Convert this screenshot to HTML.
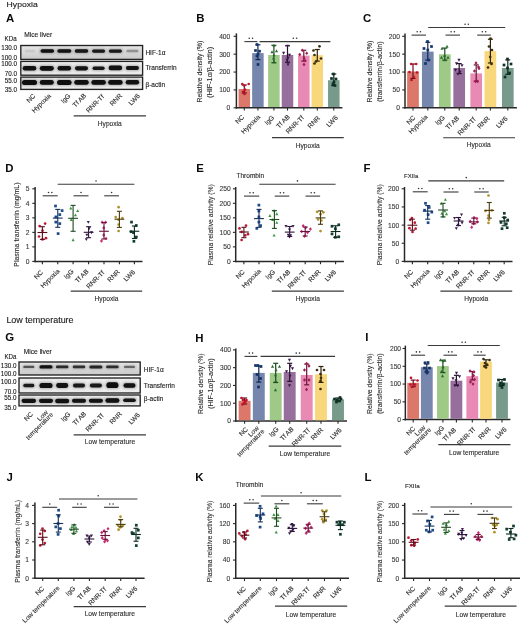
<!DOCTYPE html>
<html><head><meta charset="utf-8"><style>
html,body{margin:0;padding:0;background:#fff;}
svg{display:block;font-family:"Liberation Sans", sans-serif;will-change:transform;}
</style></head><body>
<svg width="520" height="625" viewBox="0 0 520 625">
<defs>
<filter id="bl" x="-50%" y="-100%" width="200%" height="300%"><feGaussianBlur stdDeviation="0.45"/></filter>
<filter id="bl2" x="-50%" y="-100%" width="200%" height="300%"><feGaussianBlur stdDeviation="1.1"/></filter>
<linearGradient id="g1" x1="0" y1="0" x2="0" y2="1"><stop offset="0" stop-color="#e6e6e6"/><stop offset="0.45" stop-color="#dadada"/><stop offset="1" stop-color="#c9c9c9"/></linearGradient>
<linearGradient id="g2" x1="0" y1="0" x2="1" y2="0"><stop offset="0" stop-color="#e8e8e8"/><stop offset="1" stop-color="#eeeeee"/></linearGradient>
</defs>
<rect width="520" height="625" fill="#fff"/>
<text x="6.60" y="7.20" font-size="8.0" text-anchor="start" fill="#1a1a1a" stroke="#1a1a1a" stroke-width="0.12" textLength="31.20" lengthAdjust="spacingAndGlyphs">Hypoxia</text>
<text x="6.40" y="323.00" font-size="9.0" text-anchor="start" fill="#1a1a1a" stroke="#1a1a1a" stroke-width="0.12" textLength="67.20" lengthAdjust="spacingAndGlyphs">Low temperature</text>
<text x="6.00" y="21.90" font-size="11.4" text-anchor="start" fill="#0a0a0a" font-weight="bold">A</text>
<text x="196.20" y="21.85" font-size="11.4" text-anchor="start" fill="#0a0a0a" font-weight="bold">B</text>
<text x="363.00" y="21.85" font-size="11.4" text-anchor="start" fill="#0a0a0a" font-weight="bold">C</text>
<text x="5.20" y="171.75" font-size="11.4" text-anchor="start" fill="#0a0a0a" font-weight="bold">D</text>
<text x="196.20" y="171.80" font-size="11.4" text-anchor="start" fill="#0a0a0a" font-weight="bold">E</text>
<text x="363.40" y="171.60" font-size="11.4" text-anchor="start" fill="#0a0a0a" font-weight="bold">F</text>
<text x="5.20" y="340.90" font-size="11.4" text-anchor="start" fill="#0a0a0a" font-weight="bold">G</text>
<text x="195.30" y="342.30" font-size="11.4" text-anchor="start" fill="#0a0a0a" font-weight="bold">H</text>
<text x="365.30" y="341.20" font-size="11.4" text-anchor="start" fill="#0a0a0a" font-weight="bold">I</text>
<text x="6.60" y="480.50" font-size="11.4" text-anchor="start" fill="#0a0a0a" font-weight="bold">J</text>
<text x="195.30" y="480.70" font-size="11.4" text-anchor="start" fill="#0a0a0a" font-weight="bold">K</text>
<text x="364.60" y="480.70" font-size="11.4" text-anchor="start" fill="#0a0a0a" font-weight="bold">L</text>
<rect x="20.80" y="45.50" width="121.80" height="13.90" fill="url(#g1)" stroke="#222" stroke-width="1.35"/>
<rect x="23.80" y="48.95" width="12.40" height="4.20" rx="2.10" fill="#202020" opacity="0.021" filter="url(#bl2)"/>
<rect x="25.00" y="49.85" width="10.00" height="2.40" rx="1.20" fill="#080808" opacity="0.07" filter="url(#bl)"/>
<rect x="39.35" y="48.45" width="15.90" height="5.20" rx="2.60" fill="#202020" opacity="0.291" filter="url(#bl2)"/>
<rect x="40.55" y="49.35" width="13.50" height="3.40" rx="1.70" fill="#080808" opacity="0.97" filter="url(#bl)"/>
<rect x="56.10" y="48.40" width="16.40" height="5.30" rx="2.65" fill="#202020" opacity="0.285" filter="url(#bl2)"/>
<rect x="57.30" y="49.30" width="14.00" height="3.50" rx="1.75" fill="#080808" opacity="0.95" filter="url(#bl)"/>
<rect x="73.55" y="48.45" width="15.90" height="5.20" rx="2.60" fill="#202020" opacity="0.279" filter="url(#bl2)"/>
<rect x="74.75" y="49.35" width="13.50" height="3.40" rx="1.70" fill="#080808" opacity="0.93" filter="url(#bl)"/>
<rect x="90.90" y="48.55" width="15.40" height="5.00" rx="2.50" fill="#202020" opacity="0.276" filter="url(#bl2)"/>
<rect x="92.10" y="49.45" width="13.00" height="3.20" rx="1.60" fill="#080808" opacity="0.92" filter="url(#bl)"/>
<rect x="107.70" y="48.55" width="15.40" height="5.00" rx="2.50" fill="#202020" opacity="0.276" filter="url(#bl2)"/>
<rect x="108.90" y="49.45" width="13.00" height="3.20" rx="1.60" fill="#080808" opacity="0.92" filter="url(#bl)"/>
<rect x="125.20" y="48.95" width="14.40" height="4.20" rx="2.10" fill="#202020" opacity="0.090" filter="url(#bl2)"/>
<rect x="126.40" y="49.85" width="12.00" height="2.40" rx="1.20" fill="#080808" opacity="0.3" filter="url(#bl)"/>
<rect x="20.80" y="61.40" width="121.80" height="13.80" fill="url(#g2)" stroke="#222" stroke-width="1.35"/>
<rect x="21.55" y="65.20" width="15.90" height="6.20" rx="3.10" fill="#202020" opacity="0.291" filter="url(#bl2)"/>
<rect x="22.75" y="66.10" width="13.50" height="4.40" rx="2.20" fill="#080808" opacity="0.97" filter="url(#bl)"/>
<rect x="38.60" y="65.00" width="16.40" height="6.60" rx="3.30" fill="#202020" opacity="0.294" filter="url(#bl2)"/>
<rect x="39.80" y="65.90" width="14.00" height="4.80" rx="2.40" fill="#080808" opacity="0.98" filter="url(#bl)"/>
<rect x="56.35" y="65.10" width="15.90" height="6.40" rx="3.20" fill="#202020" opacity="0.291" filter="url(#bl2)"/>
<rect x="57.55" y="66.00" width="13.50" height="4.60" rx="2.30" fill="#080808" opacity="0.97" filter="url(#bl)"/>
<rect x="73.80" y="65.30" width="15.40" height="6.00" rx="3.00" fill="#202020" opacity="0.285" filter="url(#bl2)"/>
<rect x="75.00" y="66.20" width="13.00" height="4.20" rx="2.10" fill="#080808" opacity="0.95" filter="url(#bl)"/>
<rect x="91.40" y="65.70" width="14.40" height="5.20" rx="2.60" fill="#202020" opacity="0.279" filter="url(#bl2)"/>
<rect x="92.60" y="66.60" width="12.00" height="3.40" rx="1.70" fill="#080808" opacity="0.93" filter="url(#bl)"/>
<rect x="107.45" y="64.70" width="15.90" height="6.40" rx="3.20" fill="#202020" opacity="0.291" filter="url(#bl2)"/>
<rect x="108.65" y="65.60" width="13.50" height="4.60" rx="2.30" fill="#080808" opacity="0.97" filter="url(#bl)"/>
<rect x="124.70" y="65.10" width="15.40" height="5.80" rx="2.90" fill="#202020" opacity="0.285" filter="url(#bl2)"/>
<rect x="125.90" y="66.00" width="13.00" height="4.00" rx="2.00" fill="#080808" opacity="0.95" filter="url(#bl)"/>
<rect x="20.80" y="77.10" width="121.80" height="12.30" fill="url(#g2)" stroke="#222" stroke-width="1.35"/>
<rect x="20.80" y="79.05" width="17.40" height="6.80" rx="3.40" fill="#202020" opacity="0.297" filter="url(#bl2)"/>
<rect x="22.00" y="79.95" width="15.00" height="5.00" rx="2.50" fill="#080808" opacity="0.99" filter="url(#bl)"/>
<rect x="38.60" y="79.15" width="16.40" height="6.60" rx="3.30" fill="#202020" opacity="0.294" filter="url(#bl2)"/>
<rect x="39.80" y="80.05" width="14.00" height="4.80" rx="2.40" fill="#080808" opacity="0.98" filter="url(#bl)"/>
<rect x="55.85" y="79.05" width="16.90" height="6.80" rx="3.40" fill="#202020" opacity="0.297" filter="url(#bl2)"/>
<rect x="57.05" y="79.95" width="14.50" height="5.00" rx="2.50" fill="#080808" opacity="0.99" filter="url(#bl)"/>
<rect x="73.05" y="79.15" width="16.90" height="6.60" rx="3.30" fill="#202020" opacity="0.294" filter="url(#bl2)"/>
<rect x="74.25" y="80.05" width="14.50" height="4.80" rx="2.40" fill="#080808" opacity="0.98" filter="url(#bl)"/>
<rect x="90.15" y="79.15" width="16.90" height="6.60" rx="3.30" fill="#202020" opacity="0.294" filter="url(#bl2)"/>
<rect x="91.35" y="80.05" width="14.50" height="4.80" rx="2.40" fill="#080808" opacity="0.98" filter="url(#bl)"/>
<rect x="106.95" y="79.15" width="16.90" height="6.60" rx="3.30" fill="#202020" opacity="0.294" filter="url(#bl2)"/>
<rect x="108.15" y="80.05" width="14.50" height="4.80" rx="2.40" fill="#080808" opacity="0.98" filter="url(#bl)"/>
<rect x="124.45" y="79.05" width="15.90" height="6.40" rx="3.20" fill="#202020" opacity="0.291" filter="url(#bl2)"/>
<rect x="125.65" y="79.95" width="13.50" height="4.60" rx="2.30" fill="#080808" opacity="0.97" filter="url(#bl)"/>
<text x="17.00" y="50.40" font-size="6.3" text-anchor="end" fill="#1a1a1a" stroke="#1a1a1a" stroke-width="0.12">130.0</text>
<text x="17.00" y="59.70" font-size="6.3" text-anchor="end" fill="#1a1a1a" stroke="#1a1a1a" stroke-width="0.12">100.0</text>
<text x="17.00" y="65.90" font-size="6.3" text-anchor="end" fill="#1a1a1a" stroke="#1a1a1a" stroke-width="0.12">100.0</text>
<text x="17.00" y="75.90" font-size="6.3" text-anchor="end" fill="#1a1a1a" stroke="#1a1a1a" stroke-width="0.12">70.0</text>
<text x="17.00" y="82.70" font-size="6.3" text-anchor="end" fill="#1a1a1a" stroke="#1a1a1a" stroke-width="0.12">55.0</text>
<text x="17.00" y="91.50" font-size="6.3" text-anchor="end" fill="#1a1a1a" stroke="#1a1a1a" stroke-width="0.12">35.0</text>
<text x="145.40" y="54.50" font-size="6.5" text-anchor="start" fill="#1a1a1a" stroke="#1a1a1a" stroke-width="0.12">HIF-1α</text>
<text x="145.40" y="70.30" font-size="6.5" text-anchor="start" fill="#1a1a1a" stroke="#1a1a1a" stroke-width="0.12">Transferrin</text>
<text x="145.40" y="86.70" font-size="6.5" text-anchor="start" fill="#1a1a1a" stroke="#1a1a1a" stroke-width="0.12">β-actin</text>
<text x="4.60" y="40.60" font-size="6.5" text-anchor="start" fill="#1a1a1a" stroke="#1a1a1a" stroke-width="0.12" textLength="12.00" lengthAdjust="spacingAndGlyphs">KDa</text>
<text x="24.20" y="37.40" font-size="6.8" text-anchor="start" fill="#1a1a1a" stroke="#1a1a1a" stroke-width="0.12" textLength="28.00" lengthAdjust="spacingAndGlyphs">Mice liver</text>
<text x="35.94" y="96.41" font-size="6.6" text-anchor="end" fill="#2e2e2e" stroke="#2e2e2e" stroke-width="0.12" transform="rotate(-45 35.94 96.41)">NC</text>
<text x="51.36" y="96.31" font-size="6.6" text-anchor="end" fill="#2e2e2e" stroke="#2e2e2e" stroke-width="0.12" transform="rotate(-45 51.36 96.31)">Hypoxia</text>
<text x="70.94" y="96.29" font-size="6.6" text-anchor="end" fill="#2e2e2e" stroke="#2e2e2e" stroke-width="0.12" transform="rotate(-45 70.94 96.29)">IgG</text>
<text x="86.74" y="96.24" font-size="6.6" text-anchor="end" fill="#2e2e2e" stroke="#2e2e2e" stroke-width="0.12" transform="rotate(-45 86.74 96.24)">Tf AB</text>
<text x="104.46" y="97.24" font-size="6.6" text-anchor="end" fill="#2e2e2e" stroke="#2e2e2e" stroke-width="0.12" transform="rotate(-45 104.46 97.24)">RNR-Tf</text>
<text x="122.54" y="96.24" font-size="6.6" text-anchor="end" fill="#2e2e2e" stroke="#2e2e2e" stroke-width="0.12" transform="rotate(-45 122.54 96.24)">RNR</text>
<text x="140.41" y="96.49" font-size="6.6" text-anchor="end" fill="#2e2e2e" stroke="#2e2e2e" stroke-width="0.12" transform="rotate(-45 140.41 96.49)">LW6</text>
<line x1="73.65" y1="115.90" x2="146.00" y2="115.90" stroke="#3a3a3a" stroke-width="1.1"/>
<text x="109.80" y="126.20" font-size="6.7" text-anchor="middle" fill="#2e2e2e" stroke="#2e2e2e" stroke-width="0.12" textLength="24.00" lengthAdjust="spacingAndGlyphs">Hypoxia</text>
<line x1="236.40" y1="33.40" x2="236.40" y2="108.55" stroke="#282828" stroke-width="1.5"/>
<line x1="235.65" y1="107.80" x2="342.40" y2="107.80" stroke="#282828" stroke-width="1.5"/>
<line x1="233.60" y1="107.80" x2="236.40" y2="107.80" stroke="#282828" stroke-width="1.1"/>
<text x="230.30" y="110.20" font-size="6.7" text-anchor="end" fill="#3a3a3a" stroke="#3a3a3a" stroke-width="0.12">0</text>
<line x1="233.60" y1="89.92" x2="236.40" y2="89.92" stroke="#282828" stroke-width="1.1"/>
<text x="230.30" y="92.33" font-size="6.7" text-anchor="end" fill="#3a3a3a" stroke="#3a3a3a" stroke-width="0.12">100</text>
<line x1="233.60" y1="72.05" x2="236.40" y2="72.05" stroke="#282828" stroke-width="1.1"/>
<text x="230.30" y="74.45" font-size="6.7" text-anchor="end" fill="#3a3a3a" stroke="#3a3a3a" stroke-width="0.12">200</text>
<line x1="233.60" y1="54.17" x2="236.40" y2="54.17" stroke="#282828" stroke-width="1.1"/>
<text x="230.30" y="56.57" font-size="6.7" text-anchor="end" fill="#3a3a3a" stroke="#3a3a3a" stroke-width="0.12">300</text>
<line x1="233.60" y1="36.30" x2="236.40" y2="36.30" stroke="#282828" stroke-width="1.1"/>
<text x="230.30" y="38.70" font-size="6.7" text-anchor="end" fill="#3a3a3a" stroke="#3a3a3a" stroke-width="0.12">400</text>
<line x1="244.30" y1="107.80" x2="244.30" y2="110.60" stroke="#282828" stroke-width="1.1"/>
<line x1="257.90" y1="107.80" x2="257.90" y2="110.60" stroke="#282828" stroke-width="1.1"/>
<line x1="273.90" y1="107.80" x2="273.90" y2="110.60" stroke="#282828" stroke-width="1.1"/>
<line x1="287.50" y1="107.80" x2="287.50" y2="110.60" stroke="#282828" stroke-width="1.1"/>
<line x1="303.80" y1="107.80" x2="303.80" y2="110.60" stroke="#282828" stroke-width="1.1"/>
<line x1="317.30" y1="107.80" x2="317.30" y2="110.60" stroke="#282828" stroke-width="1.1"/>
<line x1="333.80" y1="107.80" x2="333.80" y2="110.60" stroke="#282828" stroke-width="1.1"/>
<rect x="238.55" y="89.00" width="11.50" height="18.05" fill="#db786a"/>
<rect x="252.15" y="53.10" width="11.50" height="53.95" fill="#7686ad"/>
<rect x="268.15" y="55.00" width="11.50" height="52.05" fill="#9ec986"/>
<rect x="281.75" y="55.00" width="11.50" height="52.05" fill="#976f9d"/>
<rect x="298.05" y="55.60" width="11.50" height="51.45" fill="#e98ab4"/>
<rect x="311.55" y="55.20" width="11.50" height="51.85" fill="#f9d77c"/>
<rect x="328.05" y="80.20" width="11.50" height="26.85" fill="#789a8a"/>
<line x1="244.30" y1="85.00" x2="244.30" y2="93.00" stroke="#6a0e1c" stroke-width="1.2"/>
<line x1="241.80" y1="85.00" x2="246.80" y2="85.00" stroke="#6a0e1c" stroke-width="1.2"/>
<line x1="241.80" y1="93.00" x2="246.80" y2="93.00" stroke="#6a0e1c" stroke-width="1.2"/>
<circle cx="242.30" cy="84.00" r="1.35" fill="#c0142e"/>
<circle cx="248.70" cy="84.00" r="1.35" fill="#c0142e"/>
<circle cx="244.30" cy="85.50" r="1.35" fill="#c0142e"/>
<circle cx="245.00" cy="89.70" r="1.35" fill="#c0142e"/>
<circle cx="243.00" cy="91.90" r="1.35" fill="#c0142e"/>
<circle cx="244.50" cy="94.00" r="1.35" fill="#c0142e"/>
<line x1="257.90" y1="44.80" x2="257.90" y2="59.60" stroke="#102850" stroke-width="1.2"/>
<line x1="255.40" y1="44.80" x2="260.40" y2="44.80" stroke="#102850" stroke-width="1.2"/>
<line x1="255.40" y1="59.60" x2="260.40" y2="59.60" stroke="#102850" stroke-width="1.2"/>
<rect x="255.65" y="43.15" width="2.70" height="2.70" fill="#15346a"/>
<rect x="254.15" y="49.15" width="2.70" height="2.70" fill="#15346a"/>
<rect x="258.15" y="49.85" width="2.70" height="2.70" fill="#15346a"/>
<rect x="256.65" y="52.65" width="2.70" height="2.70" fill="#15346a"/>
<rect x="255.65" y="54.65" width="2.70" height="2.70" fill="#15346a"/>
<rect x="256.65" y="63.15" width="2.70" height="2.70" fill="#15346a"/>
<line x1="273.90" y1="45.30" x2="273.90" y2="62.75" stroke="#184a1e" stroke-width="1.2"/>
<line x1="271.40" y1="45.30" x2="276.40" y2="45.30" stroke="#184a1e" stroke-width="1.2"/>
<line x1="271.40" y1="62.75" x2="276.40" y2="62.75" stroke="#184a1e" stroke-width="1.2"/>
<path d="M274.00,43.81 L275.55,46.65 L272.45,46.65Z" fill="#2a6a30"/>
<path d="M272.00,50.31 L273.55,53.15 L270.45,53.15Z" fill="#2a6a30"/>
<path d="M276.50,49.31 L278.05,52.15 L274.95,52.15Z" fill="#2a6a30"/>
<path d="M274.00,53.31 L275.55,56.15 L272.45,56.15Z" fill="#2a6a30"/>
<path d="M273.50,56.61 L275.05,59.45 L271.95,59.45Z" fill="#2a6a30"/>
<path d="M274.30,60.31 L275.85,63.15 L272.75,63.15Z" fill="#2a6a30"/>
<line x1="287.50" y1="45.80" x2="287.50" y2="62.20" stroke="#24102e" stroke-width="1.2"/>
<line x1="285.00" y1="45.80" x2="290.00" y2="45.80" stroke="#24102e" stroke-width="1.2"/>
<line x1="285.00" y1="62.20" x2="290.00" y2="62.20" stroke="#24102e" stroke-width="1.2"/>
<path d="M287.60,47.49 L289.15,44.65 L286.05,44.65Z" fill="#3a1848"/>
<path d="M283.60,54.69 L285.15,51.85 L282.05,51.85Z" fill="#3a1848"/>
<path d="M289.50,56.69 L291.05,53.85 L287.95,53.85Z" fill="#3a1848"/>
<path d="M288.00,59.69 L289.55,56.85 L286.45,56.85Z" fill="#3a1848"/>
<path d="M287.00,61.69 L288.55,58.85 L285.45,58.85Z" fill="#3a1848"/>
<path d="M288.00,66.19 L289.55,63.35 L286.45,63.35Z" fill="#3a1848"/>
<line x1="303.80" y1="50.30" x2="303.80" y2="61.10" stroke="#6a1436" stroke-width="1.2"/>
<line x1="301.30" y1="50.30" x2="306.30" y2="50.30" stroke="#6a1436" stroke-width="1.2"/>
<line x1="301.30" y1="61.10" x2="306.30" y2="61.10" stroke="#6a1436" stroke-width="1.2"/>
<path d="M299.70,52.78 L301.25,54.60 L299.70,56.42 L298.15,54.60Z" fill="#a01e52"/>
<path d="M302.30,48.48 L303.85,50.30 L302.30,52.12 L300.75,50.30Z" fill="#a01e52"/>
<path d="M306.70,51.48 L308.25,53.30 L306.70,55.12 L305.15,53.30Z" fill="#a01e52"/>
<path d="M304.00,56.18 L305.55,58.00 L304.00,59.82 L302.45,58.00Z" fill="#a01e52"/>
<path d="M305.00,58.78 L306.55,60.60 L305.00,62.42 L303.45,60.60Z" fill="#a01e52"/>
<path d="M304.00,62.68 L305.55,64.50 L304.00,66.32 L302.45,64.50Z" fill="#a01e52"/>
<line x1="317.30" y1="49.50" x2="317.30" y2="61.10" stroke="#2e2408" stroke-width="1.2"/>
<line x1="314.80" y1="49.50" x2="319.80" y2="49.50" stroke="#2e2408" stroke-width="1.2"/>
<line x1="314.80" y1="61.10" x2="319.80" y2="61.10" stroke="#2e2408" stroke-width="1.2"/>
<circle cx="319.50" cy="46.30" r="1.35" fill="#3a2e10"/>
<circle cx="313.50" cy="50.50" r="1.35" fill="#3a2e10"/>
<circle cx="314.50" cy="55.00" r="1.35" fill="#3a2e10"/>
<circle cx="321.00" cy="58.50" r="1.35" fill="#3a2e10"/>
<circle cx="316.00" cy="61.50" r="1.35" fill="#3a2e10"/>
<circle cx="314.50" cy="63.50" r="1.35" fill="#3a2e10"/>
<line x1="333.80" y1="74.00" x2="333.80" y2="85.60" stroke="#0a241a" stroke-width="1.2"/>
<line x1="331.30" y1="74.00" x2="336.30" y2="74.00" stroke="#0a241a" stroke-width="1.2"/>
<line x1="331.30" y1="85.60" x2="336.30" y2="85.60" stroke="#0a241a" stroke-width="1.2"/>
<rect x="332.15" y="72.65" width="2.70" height="2.70" fill="#0e3026"/>
<rect x="330.15" y="77.15" width="2.70" height="2.70" fill="#0e3026"/>
<rect x="334.65" y="77.65" width="2.70" height="2.70" fill="#0e3026"/>
<rect x="332.65" y="80.65" width="2.70" height="2.70" fill="#0e3026"/>
<rect x="331.65" y="82.65" width="2.70" height="2.70" fill="#0e3026"/>
<rect x="333.45" y="84.15" width="2.70" height="2.70" fill="#0e3026"/>
<text x="201.90" y="71.70" font-size="7.3" text-anchor="middle" fill="#2e2e2e" stroke="#2e2e2e" stroke-width="0.12" textLength="61.80" lengthAdjust="spacingAndGlyphs" transform="rotate(-90 201.90 71.70)">Relative density (%)</text>
<text x="212.50" y="72.35" font-size="7.3" text-anchor="middle" fill="#2e2e2e" stroke="#2e2e2e" stroke-width="0.12" textLength="51.10" lengthAdjust="spacingAndGlyphs" transform="rotate(-90 212.50 72.35)">(HIF-1α/β-actin)</text>
<text x="244.69" y="117.56" font-size="6.6" text-anchor="end" fill="#2e2e2e" stroke="#2e2e2e" stroke-width="0.12" transform="rotate(-45 244.69 117.56)">NC</text>
<text x="260.66" y="117.46" font-size="6.6" text-anchor="end" fill="#2e2e2e" stroke="#2e2e2e" stroke-width="0.12" transform="rotate(-45 260.66 117.46)">Hypoxia</text>
<text x="274.69" y="118.09" font-size="6.6" text-anchor="end" fill="#2e2e2e" stroke="#2e2e2e" stroke-width="0.12" transform="rotate(-45 274.69 118.09)">IgG</text>
<text x="290.34" y="117.29" font-size="6.6" text-anchor="end" fill="#2e2e2e" stroke="#2e2e2e" stroke-width="0.12" transform="rotate(-45 290.34 117.29)">Tf AB</text>
<text x="304.31" y="118.29" font-size="6.6" text-anchor="end" fill="#2e2e2e" stroke="#2e2e2e" stroke-width="0.12" transform="rotate(-45 304.31 118.29)">RNR-Tf</text>
<text x="320.44" y="118.59" font-size="6.6" text-anchor="end" fill="#2e2e2e" stroke="#2e2e2e" stroke-width="0.12" transform="rotate(-45 320.44 118.59)">RNR</text>
<text x="338.31" y="118.19" font-size="6.6" text-anchor="end" fill="#2e2e2e" stroke="#2e2e2e" stroke-width="0.12" transform="rotate(-45 338.31 118.19)">LW6</text>
<line x1="272.00" y1="137.60" x2="343.75" y2="137.60" stroke="#3a3a3a" stroke-width="1.1"/>
<text x="307.70" y="147.90" font-size="6.7" text-anchor="middle" fill="#2e2e2e" stroke="#2e2e2e" stroke-width="0.12" textLength="24.00" lengthAdjust="spacingAndGlyphs">Hypoxia</text>
<line x1="244.40" y1="41.60" x2="257.40" y2="41.60" stroke="#3a3a3a" stroke-width="1.1"/>
<circle cx="249.25" cy="38.30" r="0.8" fill="#333"/>
<circle cx="252.55" cy="38.30" r="0.8" fill="#333"/>
<line x1="259.50" y1="41.60" x2="330.40" y2="41.60" stroke="#3a3a3a" stroke-width="1.1"/>
<circle cx="293.30" cy="38.30" r="0.8" fill="#333"/>
<circle cx="296.60" cy="38.30" r="0.8" fill="#333"/>
<line x1="405.00" y1="33.60" x2="405.00" y2="108.55" stroke="#282828" stroke-width="1.5"/>
<line x1="404.25" y1="107.80" x2="516.90" y2="107.80" stroke="#282828" stroke-width="1.5"/>
<line x1="402.20" y1="107.80" x2="405.00" y2="107.80" stroke="#282828" stroke-width="1.1"/>
<text x="399.90" y="110.20" font-size="6.7" text-anchor="end" fill="#3a3a3a" stroke="#3a3a3a" stroke-width="0.12">0</text>
<line x1="402.20" y1="89.92" x2="405.00" y2="89.92" stroke="#282828" stroke-width="1.1"/>
<text x="399.90" y="92.33" font-size="6.7" text-anchor="end" fill="#3a3a3a" stroke="#3a3a3a" stroke-width="0.12">50</text>
<line x1="402.20" y1="72.05" x2="405.00" y2="72.05" stroke="#282828" stroke-width="1.1"/>
<text x="399.90" y="74.45" font-size="6.7" text-anchor="end" fill="#3a3a3a" stroke="#3a3a3a" stroke-width="0.12">100</text>
<line x1="402.20" y1="54.17" x2="405.00" y2="54.17" stroke="#282828" stroke-width="1.1"/>
<text x="399.90" y="56.57" font-size="6.7" text-anchor="end" fill="#3a3a3a" stroke="#3a3a3a" stroke-width="0.12">150</text>
<line x1="402.20" y1="36.30" x2="405.00" y2="36.30" stroke="#282828" stroke-width="1.1"/>
<text x="399.90" y="38.70" font-size="6.7" text-anchor="end" fill="#3a3a3a" stroke="#3a3a3a" stroke-width="0.12">200</text>
<line x1="413.00" y1="107.80" x2="413.00" y2="110.60" stroke="#282828" stroke-width="1.1"/>
<line x1="427.80" y1="107.80" x2="427.80" y2="110.60" stroke="#282828" stroke-width="1.1"/>
<line x1="444.80" y1="107.80" x2="444.80" y2="110.60" stroke="#282828" stroke-width="1.1"/>
<line x1="459.20" y1="107.80" x2="459.20" y2="110.60" stroke="#282828" stroke-width="1.1"/>
<line x1="476.20" y1="107.80" x2="476.20" y2="110.60" stroke="#282828" stroke-width="1.1"/>
<line x1="490.40" y1="107.80" x2="490.40" y2="110.60" stroke="#282828" stroke-width="1.1"/>
<line x1="507.80" y1="107.80" x2="507.80" y2="110.60" stroke="#282828" stroke-width="1.1"/>
<rect x="407.15" y="71.50" width="11.70" height="35.55" fill="#db786a"/>
<rect x="421.95" y="51.60" width="11.70" height="55.45" fill="#7686ad"/>
<rect x="438.95" y="54.30" width="11.70" height="52.75" fill="#9ec986"/>
<rect x="453.35" y="68.00" width="11.70" height="39.05" fill="#976f9d"/>
<rect x="470.35" y="73.40" width="11.70" height="33.65" fill="#e98ab4"/>
<rect x="484.55" y="51.10" width="11.70" height="55.95" fill="#f9d77c"/>
<rect x="501.95" y="68.00" width="11.70" height="39.05" fill="#789a8a"/>
<line x1="413.00" y1="64.00" x2="413.00" y2="78.40" stroke="#6a0e1c" stroke-width="1.2"/>
<line x1="410.50" y1="64.00" x2="415.50" y2="64.00" stroke="#6a0e1c" stroke-width="1.2"/>
<line x1="410.50" y1="78.40" x2="415.50" y2="78.40" stroke="#6a0e1c" stroke-width="1.2"/>
<circle cx="411.20" cy="64.00" r="1.35" fill="#c0142e"/>
<circle cx="416.20" cy="64.00" r="1.35" fill="#c0142e"/>
<circle cx="409.50" cy="72.00" r="1.35" fill="#c0142e"/>
<circle cx="417.00" cy="72.50" r="1.35" fill="#c0142e"/>
<circle cx="413.80" cy="77.00" r="1.35" fill="#c0142e"/>
<circle cx="411.50" cy="80.00" r="1.35" fill="#c0142e"/>
<line x1="427.80" y1="42.30" x2="427.80" y2="60.10" stroke="#102850" stroke-width="1.2"/>
<line x1="425.30" y1="42.30" x2="430.30" y2="42.30" stroke="#102850" stroke-width="1.2"/>
<line x1="425.30" y1="60.10" x2="430.30" y2="60.10" stroke="#102850" stroke-width="1.2"/>
<rect x="426.15" y="40.15" width="2.70" height="2.70" fill="#15346a"/>
<rect x="422.65" y="47.15" width="2.70" height="2.70" fill="#15346a"/>
<rect x="430.15" y="45.15" width="2.70" height="2.70" fill="#15346a"/>
<rect x="426.45" y="48.65" width="2.70" height="2.70" fill="#15346a"/>
<rect x="424.15" y="62.15" width="2.70" height="2.70" fill="#15346a"/>
<rect x="427.15" y="58.65" width="2.70" height="2.70" fill="#15346a"/>
<line x1="444.80" y1="48.10" x2="444.80" y2="60.10" stroke="#184a1e" stroke-width="1.2"/>
<line x1="442.30" y1="48.10" x2="447.30" y2="48.10" stroke="#184a1e" stroke-width="1.2"/>
<line x1="442.30" y1="60.10" x2="447.30" y2="60.10" stroke="#184a1e" stroke-width="1.2"/>
<path d="M447.00,44.81 L448.55,47.65 L445.45,47.65Z" fill="#2a6a30"/>
<path d="M442.00,46.81 L443.55,49.65 L440.45,49.65Z" fill="#2a6a30"/>
<path d="M444.50,53.81 L446.05,56.65 L442.95,56.65Z" fill="#2a6a30"/>
<path d="M441.50,55.81 L443.05,58.65 L439.95,58.65Z" fill="#2a6a30"/>
<path d="M448.00,55.81 L449.55,58.65 L446.45,58.65Z" fill="#2a6a30"/>
<path d="M444.80,58.31 L446.35,61.15 L443.25,61.15Z" fill="#2a6a30"/>
<line x1="459.20" y1="63.60" x2="459.20" y2="73.60" stroke="#24102e" stroke-width="1.2"/>
<line x1="456.70" y1="63.60" x2="461.70" y2="63.60" stroke="#24102e" stroke-width="1.2"/>
<line x1="456.70" y1="73.60" x2="461.70" y2="73.60" stroke="#24102e" stroke-width="1.2"/>
<path d="M459.00,61.69 L460.55,58.85 L457.45,58.85Z" fill="#3a1848"/>
<path d="M456.50,65.19 L458.05,62.35 L454.95,62.35Z" fill="#3a1848"/>
<path d="M462.00,67.19 L463.55,64.35 L460.45,64.35Z" fill="#3a1848"/>
<path d="M455.50,71.69 L457.05,68.85 L453.95,68.85Z" fill="#3a1848"/>
<path d="M460.00,73.69 L461.55,70.85 L458.45,70.85Z" fill="#3a1848"/>
<path d="M458.00,75.69 L459.55,72.85 L456.45,72.85Z" fill="#3a1848"/>
<line x1="476.20" y1="64.90" x2="476.20" y2="81.10" stroke="#6a1436" stroke-width="1.2"/>
<line x1="473.70" y1="64.90" x2="478.70" y2="64.90" stroke="#6a1436" stroke-width="1.2"/>
<line x1="473.70" y1="81.10" x2="478.70" y2="81.10" stroke="#6a1436" stroke-width="1.2"/>
<path d="M476.00,61.18 L477.55,63.00 L476.00,64.82 L474.45,63.00Z" fill="#a01e52"/>
<path d="M478.50,65.18 L480.05,67.00 L478.50,68.82 L476.95,67.00Z" fill="#a01e52"/>
<path d="M474.50,69.18 L476.05,71.00 L474.50,72.82 L472.95,71.00Z" fill="#a01e52"/>
<path d="M479.00,66.68 L480.55,68.50 L479.00,70.32 L477.45,68.50Z" fill="#a01e52"/>
<path d="M475.50,79.68 L477.05,81.50 L475.50,83.32 L473.95,81.50Z" fill="#a01e52"/>
<path d="M477.50,79.68 L479.05,81.50 L477.50,83.32 L475.95,81.50Z" fill="#a01e52"/>
<line x1="490.40" y1="39.25" x2="490.40" y2="63.00" stroke="#2e2408" stroke-width="1.2"/>
<line x1="487.90" y1="39.25" x2="492.90" y2="39.25" stroke="#2e2408" stroke-width="1.2"/>
<line x1="487.90" y1="63.00" x2="492.90" y2="63.00" stroke="#2e2408" stroke-width="1.2"/>
<circle cx="490.50" cy="38.50" r="1.35" fill="#3a2e10"/>
<circle cx="489.00" cy="46.50" r="1.35" fill="#3a2e10"/>
<circle cx="492.00" cy="50.00" r="1.35" fill="#3a2e10"/>
<circle cx="491.50" cy="64.00" r="1.35" fill="#3a2e10"/>
<circle cx="488.00" cy="67.50" r="1.35" fill="#3a2e10"/>
<circle cx="490.20" cy="57.00" r="1.35" fill="#3a2e10"/>
<line x1="507.80" y1="59.90" x2="507.80" y2="74.30" stroke="#0a241a" stroke-width="1.2"/>
<line x1="505.30" y1="59.90" x2="510.30" y2="59.90" stroke="#0a241a" stroke-width="1.2"/>
<line x1="505.30" y1="74.30" x2="510.30" y2="74.30" stroke="#0a241a" stroke-width="1.2"/>
<rect x="506.15" y="57.65" width="2.70" height="2.70" fill="#0e3026"/>
<rect x="502.65" y="63.65" width="2.70" height="2.70" fill="#0e3026"/>
<rect x="509.65" y="62.65" width="2.70" height="2.70" fill="#0e3026"/>
<rect x="506.15" y="66.65" width="2.70" height="2.70" fill="#0e3026"/>
<rect x="508.15" y="71.65" width="2.70" height="2.70" fill="#0e3026"/>
<rect x="503.65" y="75.65" width="2.70" height="2.70" fill="#0e3026"/>
<text x="371.70" y="71.70" font-size="7.3" text-anchor="middle" fill="#2e2e2e" stroke="#2e2e2e" stroke-width="0.12" textLength="61.80" lengthAdjust="spacingAndGlyphs" transform="rotate(-90 371.70 71.70)">Relative density (%)</text>
<text x="382.00" y="71.65" font-size="7.3" text-anchor="middle" fill="#2e2e2e" stroke="#2e2e2e" stroke-width="0.12" textLength="60.50" lengthAdjust="spacingAndGlyphs" transform="rotate(-90 382.00 71.65)">(transferrin/β-actin)</text>
<text x="415.94" y="118.21" font-size="6.6" text-anchor="end" fill="#2e2e2e" stroke="#2e2e2e" stroke-width="0.12" transform="rotate(-45 415.94 118.21)">NC</text>
<text x="428.16" y="117.46" font-size="6.6" text-anchor="end" fill="#2e2e2e" stroke="#2e2e2e" stroke-width="0.12" transform="rotate(-45 428.16 117.46)">Hypoxia</text>
<text x="445.34" y="118.09" font-size="6.6" text-anchor="end" fill="#2e2e2e" stroke="#2e2e2e" stroke-width="0.12" transform="rotate(-45 445.34 118.09)">IgG</text>
<text x="459.69" y="118.69" font-size="6.6" text-anchor="end" fill="#2e2e2e" stroke="#2e2e2e" stroke-width="0.12" transform="rotate(-45 459.69 118.69)">Tf AB</text>
<text x="476.16" y="119.99" font-size="6.6" text-anchor="end" fill="#2e2e2e" stroke="#2e2e2e" stroke-width="0.12" transform="rotate(-45 476.16 119.99)">RNR-Tf</text>
<text x="490.24" y="118.99" font-size="6.6" text-anchor="end" fill="#2e2e2e" stroke="#2e2e2e" stroke-width="0.12" transform="rotate(-45 490.24 118.99)">RNR</text>
<text x="508.01" y="119.24" font-size="6.6" text-anchor="end" fill="#2e2e2e" stroke="#2e2e2e" stroke-width="0.12" transform="rotate(-45 508.01 119.24)">LW6</text>
<line x1="443.20" y1="137.80" x2="515.00" y2="137.80" stroke="#3a3a3a" stroke-width="1.1"/>
<text x="478.70" y="147.30" font-size="6.7" text-anchor="middle" fill="#2e2e2e" stroke="#2e2e2e" stroke-width="0.12" textLength="24.00" lengthAdjust="spacingAndGlyphs">Hypoxia</text>
<line x1="411.60" y1="35.10" x2="426.00" y2="35.10" stroke="#3a3a3a" stroke-width="1.1"/>
<circle cx="417.15" cy="31.80" r="0.8" fill="#333"/>
<circle cx="420.45" cy="31.80" r="0.8" fill="#333"/>
<line x1="445.50" y1="35.10" x2="460.00" y2="35.10" stroke="#3a3a3a" stroke-width="1.1"/>
<circle cx="451.10" cy="31.80" r="0.8" fill="#333"/>
<circle cx="454.40" cy="31.80" r="0.8" fill="#333"/>
<line x1="477.20" y1="35.10" x2="490.80" y2="35.10" stroke="#3a3a3a" stroke-width="1.1"/>
<circle cx="482.35" cy="31.80" r="0.8" fill="#333"/>
<circle cx="485.65" cy="31.80" r="0.8" fill="#333"/>
<line x1="428.20" y1="27.50" x2="505.20" y2="27.50" stroke="#3a3a3a" stroke-width="1.1"/>
<circle cx="465.05" cy="24.20" r="0.8" fill="#333"/>
<circle cx="468.35" cy="24.20" r="0.8" fill="#333"/>
<line x1="35.10" y1="187.00" x2="35.10" y2="262.15" stroke="#282828" stroke-width="1.5"/>
<line x1="34.35" y1="261.40" x2="142.50" y2="261.40" stroke="#282828" stroke-width="1.5"/>
<line x1="32.30" y1="261.40" x2="35.10" y2="261.40" stroke="#282828" stroke-width="1.1"/>
<text x="29.40" y="263.80" font-size="6.7" text-anchor="end" fill="#3a3a3a" stroke="#3a3a3a" stroke-width="0.12">0</text>
<line x1="32.30" y1="246.88" x2="35.10" y2="246.88" stroke="#282828" stroke-width="1.1"/>
<text x="29.40" y="249.28" font-size="6.7" text-anchor="end" fill="#3a3a3a" stroke="#3a3a3a" stroke-width="0.12">1</text>
<line x1="32.30" y1="232.36" x2="35.10" y2="232.36" stroke="#282828" stroke-width="1.1"/>
<text x="29.40" y="234.76" font-size="6.7" text-anchor="end" fill="#3a3a3a" stroke="#3a3a3a" stroke-width="0.12">2</text>
<line x1="32.30" y1="217.84" x2="35.10" y2="217.84" stroke="#282828" stroke-width="1.1"/>
<text x="29.40" y="220.24" font-size="6.7" text-anchor="end" fill="#3a3a3a" stroke="#3a3a3a" stroke-width="0.12">3</text>
<line x1="32.30" y1="203.32" x2="35.10" y2="203.32" stroke="#282828" stroke-width="1.1"/>
<text x="29.40" y="205.72" font-size="6.7" text-anchor="end" fill="#3a3a3a" stroke="#3a3a3a" stroke-width="0.12">4</text>
<line x1="32.30" y1="188.80" x2="35.10" y2="188.80" stroke="#282828" stroke-width="1.1"/>
<text x="29.40" y="191.20" font-size="6.7" text-anchor="end" fill="#3a3a3a" stroke="#3a3a3a" stroke-width="0.12">5</text>
<line x1="42.40" y1="261.40" x2="42.40" y2="264.20" stroke="#282828" stroke-width="1.1"/>
<line x1="57.75" y1="261.40" x2="57.75" y2="264.20" stroke="#282828" stroke-width="1.1"/>
<line x1="73.10" y1="261.40" x2="73.10" y2="264.20" stroke="#282828" stroke-width="1.1"/>
<line x1="88.60" y1="261.40" x2="88.60" y2="264.20" stroke="#282828" stroke-width="1.1"/>
<line x1="104.00" y1="261.40" x2="104.00" y2="264.20" stroke="#282828" stroke-width="1.1"/>
<line x1="119.40" y1="261.40" x2="119.40" y2="264.20" stroke="#282828" stroke-width="1.1"/>
<line x1="134.40" y1="261.40" x2="134.40" y2="264.20" stroke="#282828" stroke-width="1.1"/>
<circle cx="39.60" cy="226.10" r="1.35" fill="#bb1a35"/>
<circle cx="45.10" cy="223.60" r="1.35" fill="#bb1a35"/>
<circle cx="39.00" cy="236.50" r="1.35" fill="#bb1a35"/>
<circle cx="46.00" cy="238.20" r="1.35" fill="#bb1a35"/>
<circle cx="42.50" cy="230.70" r="1.35" fill="#bb1a35"/>
<circle cx="42.50" cy="239.40" r="1.35" fill="#bb1a35"/>
<line x1="37.50" y1="232.50" x2="47.30" y2="232.50" stroke="#5a0f1c" stroke-width="1.1"/>
<line x1="42.40" y1="226.70" x2="42.40" y2="239.40" stroke="#5a0f1c" stroke-width="1.1"/>
<line x1="39.90" y1="226.70" x2="44.90" y2="226.70" stroke="#5a0f1c" stroke-width="1.1"/>
<line x1="39.90" y1="239.40" x2="44.90" y2="239.40" stroke="#5a0f1c" stroke-width="1.1"/>
<rect x="54.15" y="204.65" width="2.70" height="2.70" fill="#1d4b8a"/>
<rect x="60.75" y="209.25" width="2.70" height="2.70" fill="#1d4b8a"/>
<rect x="58.45" y="213.25" width="2.70" height="2.70" fill="#1d4b8a"/>
<rect x="54.45" y="215.55" width="2.70" height="2.70" fill="#1d4b8a"/>
<rect x="54.45" y="220.75" width="2.70" height="2.70" fill="#1d4b8a"/>
<rect x="58.45" y="222.25" width="2.70" height="2.70" fill="#1d4b8a"/>
<rect x="56.75" y="232.25" width="2.70" height="2.70" fill="#1d4b8a"/>
<line x1="52.85" y1="218.10" x2="62.65" y2="218.10" stroke="#14305a" stroke-width="1.1"/>
<line x1="57.75" y1="209.40" x2="57.75" y2="227.30" stroke="#14305a" stroke-width="1.1"/>
<line x1="55.25" y1="209.40" x2="60.25" y2="209.40" stroke="#14305a" stroke-width="1.1"/>
<line x1="55.25" y1="227.30" x2="60.25" y2="227.30" stroke="#14305a" stroke-width="1.1"/>
<path d="M70.80,206.61 L72.35,209.45 L69.25,209.45Z" fill="#3d9443"/>
<path d="M77.70,209.21 L79.25,212.05 L76.15,212.05Z" fill="#3d9443"/>
<path d="M75.40,213.51 L76.95,216.35 L73.85,216.35Z" fill="#3d9443"/>
<path d="M71.30,218.11 L72.85,220.95 L69.75,220.95Z" fill="#3d9443"/>
<path d="M73.10,238.31 L74.65,241.15 L71.55,241.15Z" fill="#3d9443"/>
<line x1="68.20" y1="218.30" x2="78.00" y2="218.30" stroke="#1f4a22" stroke-width="1.1"/>
<line x1="73.10" y1="205.40" x2="73.10" y2="231.30" stroke="#1f4a22" stroke-width="1.1"/>
<line x1="70.60" y1="205.40" x2="75.60" y2="205.40" stroke="#1f4a22" stroke-width="1.1"/>
<line x1="70.60" y1="231.30" x2="75.60" y2="231.30" stroke="#1f4a22" stroke-width="1.1"/>
<path d="M88.30,223.79 L89.85,220.95 L86.75,220.95Z" fill="#3a1d4d"/>
<path d="M89.20,230.09 L90.75,227.25 L87.65,227.25Z" fill="#3a1d4d"/>
<path d="M91.50,234.19 L93.05,231.35 L89.95,231.35Z" fill="#3a1d4d"/>
<path d="M86.90,236.49 L88.45,233.65 L85.35,233.65Z" fill="#3a1d4d"/>
<path d="M86.30,241.09 L87.85,238.25 L84.75,238.25Z" fill="#3a1d4d"/>
<line x1="83.70" y1="232.30" x2="93.50" y2="232.30" stroke="#2a1238" stroke-width="1.1"/>
<line x1="88.60" y1="226.70" x2="88.60" y2="237.70" stroke="#2a1238" stroke-width="1.1"/>
<line x1="86.10" y1="226.70" x2="91.10" y2="226.70" stroke="#2a1238" stroke-width="1.1"/>
<line x1="86.10" y1="237.70" x2="91.10" y2="237.70" stroke="#2a1238" stroke-width="1.1"/>
<path d="M102.20,220.48 L103.75,222.30 L102.20,224.12 L100.65,222.30Z" fill="#c92f75"/>
<path d="M105.60,220.48 L107.15,222.30 L105.60,224.12 L104.05,222.30Z" fill="#c92f75"/>
<path d="M103.70,226.08 L105.25,227.90 L103.70,229.72 L102.15,227.90Z" fill="#c92f75"/>
<path d="M103.70,233.28 L105.25,235.10 L103.70,236.92 L102.15,235.10Z" fill="#c92f75"/>
<path d="M106.10,236.68 L107.65,238.50 L106.10,240.32 L104.55,238.50Z" fill="#c92f75"/>
<path d="M101.50,239.08 L103.05,240.90 L101.50,242.72 L99.95,240.90Z" fill="#c92f75"/>
<line x1="99.10" y1="231.25" x2="108.90" y2="231.25" stroke="#6a1238" stroke-width="1.1"/>
<line x1="104.00" y1="222.60" x2="104.00" y2="239.00" stroke="#6a1238" stroke-width="1.1"/>
<line x1="101.50" y1="222.60" x2="106.50" y2="222.60" stroke="#6a1238" stroke-width="1.1"/>
<line x1="101.50" y1="239.00" x2="106.50" y2="239.00" stroke="#6a1238" stroke-width="1.1"/>
<circle cx="118.60" cy="207.20" r="1.35" fill="#b09228"/>
<circle cx="115.70" cy="217.10" r="1.35" fill="#b09228"/>
<circle cx="122.40" cy="218.10" r="1.35" fill="#b09228"/>
<circle cx="118.60" cy="219.70" r="1.35" fill="#b09228"/>
<circle cx="118.60" cy="224.50" r="1.35" fill="#b09228"/>
<circle cx="118.60" cy="231.00" r="1.35" fill="#b09228"/>
<line x1="114.50" y1="219.20" x2="124.30" y2="219.20" stroke="#4a3a10" stroke-width="1.1"/>
<line x1="119.40" y1="211.30" x2="119.40" y2="227.40" stroke="#4a3a10" stroke-width="1.1"/>
<line x1="116.90" y1="211.30" x2="121.90" y2="211.30" stroke="#4a3a10" stroke-width="1.1"/>
<line x1="116.90" y1="227.40" x2="121.90" y2="227.40" stroke="#4a3a10" stroke-width="1.1"/>
<rect x="130.15" y="220.75" width="2.70" height="2.70" fill="#123d30"/>
<rect x="134.95" y="224.15" width="2.70" height="2.70" fill="#123d30"/>
<rect x="129.75" y="230.35" width="2.70" height="2.70" fill="#123d30"/>
<rect x="132.15" y="231.35" width="2.70" height="2.70" fill="#123d30"/>
<rect x="134.95" y="235.65" width="2.70" height="2.70" fill="#123d30"/>
<rect x="132.55" y="239.95" width="2.70" height="2.70" fill="#123d30"/>
<line x1="129.50" y1="231.25" x2="139.30" y2="231.25" stroke="#0c2a20" stroke-width="1.1"/>
<line x1="134.40" y1="226.00" x2="134.40" y2="238.50" stroke="#0c2a20" stroke-width="1.1"/>
<line x1="131.90" y1="226.00" x2="136.90" y2="226.00" stroke="#0c2a20" stroke-width="1.1"/>
<line x1="131.90" y1="238.50" x2="136.90" y2="238.50" stroke="#0c2a20" stroke-width="1.1"/>
<text x="19.30" y="224.60" font-size="7.3" text-anchor="middle" fill="#2e2e2e" stroke="#2e2e2e" stroke-width="0.12" textLength="84.20" lengthAdjust="spacingAndGlyphs" transform="rotate(-90 19.30 224.60)">Plasma transferrin (mg/mL)</text>
<text x="43.44" y="272.91" font-size="6.6" text-anchor="end" fill="#2e2e2e" stroke="#2e2e2e" stroke-width="0.12" transform="rotate(-45 43.44 272.91)">NC</text>
<text x="60.06" y="271.56" font-size="6.6" text-anchor="end" fill="#2e2e2e" stroke="#2e2e2e" stroke-width="0.12" transform="rotate(-45 60.06 271.56)">Hypoxia</text>
<text x="74.04" y="271.94" font-size="6.6" text-anchor="end" fill="#2e2e2e" stroke="#2e2e2e" stroke-width="0.12" transform="rotate(-45 74.04 271.94)">IgG</text>
<text x="89.04" y="271.94" font-size="6.6" text-anchor="end" fill="#2e2e2e" stroke="#2e2e2e" stroke-width="0.12" transform="rotate(-45 89.04 271.94)">Tf AB</text>
<text x="104.86" y="273.29" font-size="6.6" text-anchor="end" fill="#2e2e2e" stroke="#2e2e2e" stroke-width="0.12" transform="rotate(-45 104.86 273.29)">RNR-Tf</text>
<text x="120.14" y="272.29" font-size="6.6" text-anchor="end" fill="#2e2e2e" stroke="#2e2e2e" stroke-width="0.12" transform="rotate(-45 120.14 272.29)">RNR</text>
<text x="135.51" y="272.54" font-size="6.6" text-anchor="end" fill="#2e2e2e" stroke="#2e2e2e" stroke-width="0.12" transform="rotate(-45 135.51 272.54)">LW6</text>
<line x1="70.70" y1="291.10" x2="142.20" y2="291.10" stroke="#3a3a3a" stroke-width="1.1"/>
<text x="106.55" y="300.80" font-size="6.7" text-anchor="middle" fill="#2e2e2e" stroke="#2e2e2e" stroke-width="0.12" textLength="24.00" lengthAdjust="spacingAndGlyphs">Hypoxia</text>
<line x1="42.70" y1="195.80" x2="57.70" y2="195.80" stroke="#3a3a3a" stroke-width="1.1"/>
<circle cx="48.55" cy="192.50" r="0.8" fill="#333"/>
<circle cx="51.85" cy="192.50" r="0.8" fill="#333"/>
<line x1="73.50" y1="195.80" x2="88.50" y2="195.80" stroke="#3a3a3a" stroke-width="1.1"/>
<circle cx="81.00" cy="192.50" r="0.8" fill="#333"/>
<line x1="104.20" y1="195.80" x2="119.00" y2="195.80" stroke="#3a3a3a" stroke-width="1.1"/>
<circle cx="111.60" cy="192.50" r="0.8" fill="#333"/>
<line x1="57.70" y1="184.30" x2="134.40" y2="184.30" stroke="#3a3a3a" stroke-width="1.1"/>
<circle cx="96.05" cy="181.00" r="0.8" fill="#333"/>
<line x1="235.70" y1="187.00" x2="235.70" y2="262.15" stroke="#282828" stroke-width="1.5"/>
<line x1="234.95" y1="261.40" x2="343.90" y2="261.40" stroke="#282828" stroke-width="1.5"/>
<line x1="232.90" y1="261.40" x2="235.70" y2="261.40" stroke="#282828" stroke-width="1.1"/>
<text x="230.70" y="263.80" font-size="6.7" text-anchor="end" fill="#3a3a3a" stroke="#3a3a3a" stroke-width="0.12">0</text>
<line x1="232.90" y1="246.88" x2="235.70" y2="246.88" stroke="#282828" stroke-width="1.1"/>
<text x="230.70" y="249.28" font-size="6.7" text-anchor="end" fill="#3a3a3a" stroke="#3a3a3a" stroke-width="0.12">50</text>
<line x1="232.90" y1="232.36" x2="235.70" y2="232.36" stroke="#282828" stroke-width="1.1"/>
<text x="230.70" y="234.76" font-size="6.7" text-anchor="end" fill="#3a3a3a" stroke="#3a3a3a" stroke-width="0.12">100</text>
<line x1="232.90" y1="217.84" x2="235.70" y2="217.84" stroke="#282828" stroke-width="1.1"/>
<text x="230.70" y="220.24" font-size="6.7" text-anchor="end" fill="#3a3a3a" stroke="#3a3a3a" stroke-width="0.12">150</text>
<line x1="232.90" y1="203.32" x2="235.70" y2="203.32" stroke="#282828" stroke-width="1.1"/>
<text x="230.70" y="205.72" font-size="6.7" text-anchor="end" fill="#3a3a3a" stroke="#3a3a3a" stroke-width="0.12">200</text>
<line x1="232.90" y1="188.80" x2="235.70" y2="188.80" stroke="#282828" stroke-width="1.1"/>
<text x="230.70" y="191.20" font-size="6.7" text-anchor="end" fill="#3a3a3a" stroke="#3a3a3a" stroke-width="0.12">250</text>
<line x1="243.90" y1="261.40" x2="243.90" y2="264.20" stroke="#282828" stroke-width="1.1"/>
<line x1="259.00" y1="261.40" x2="259.00" y2="264.20" stroke="#282828" stroke-width="1.1"/>
<line x1="274.40" y1="261.40" x2="274.40" y2="264.20" stroke="#282828" stroke-width="1.1"/>
<line x1="289.70" y1="261.40" x2="289.70" y2="264.20" stroke="#282828" stroke-width="1.1"/>
<line x1="305.20" y1="261.40" x2="305.20" y2="264.20" stroke="#282828" stroke-width="1.1"/>
<line x1="320.50" y1="261.40" x2="320.50" y2="264.20" stroke="#282828" stroke-width="1.1"/>
<line x1="335.60" y1="261.40" x2="335.60" y2="264.20" stroke="#282828" stroke-width="1.1"/>
<circle cx="239.50" cy="228.40" r="1.35" fill="#bb1a35"/>
<circle cx="246.00" cy="225.60" r="1.35" fill="#bb1a35"/>
<circle cx="241.60" cy="231.90" r="1.35" fill="#bb1a35"/>
<circle cx="248.00" cy="234.20" r="1.35" fill="#bb1a35"/>
<circle cx="245.30" cy="235.40" r="1.35" fill="#bb1a35"/>
<circle cx="241.60" cy="240.00" r="1.35" fill="#bb1a35"/>
<line x1="239.00" y1="232.00" x2="248.80" y2="232.00" stroke="#5a0f1c" stroke-width="1.1"/>
<line x1="243.90" y1="227.30" x2="243.90" y2="237.70" stroke="#5a0f1c" stroke-width="1.1"/>
<line x1="241.40" y1="227.30" x2="246.40" y2="227.30" stroke="#5a0f1c" stroke-width="1.1"/>
<line x1="241.40" y1="237.70" x2="246.40" y2="237.70" stroke="#5a0f1c" stroke-width="1.1"/>
<rect x="257.55" y="203.75" width="2.70" height="2.70" fill="#1d4b8a"/>
<rect x="257.55" y="209.75" width="2.70" height="2.70" fill="#1d4b8a"/>
<rect x="257.55" y="215.55" width="2.70" height="2.70" fill="#1d4b8a"/>
<rect x="257.55" y="220.75" width="2.70" height="2.70" fill="#1d4b8a"/>
<rect x="259.25" y="224.25" width="2.70" height="2.70" fill="#1d4b8a"/>
<rect x="255.45" y="227.05" width="2.70" height="2.70" fill="#1d4b8a"/>
<line x1="254.10" y1="218.60" x2="263.90" y2="218.60" stroke="#14305a" stroke-width="1.1"/>
<line x1="259.00" y1="209.40" x2="259.00" y2="227.30" stroke="#14305a" stroke-width="1.1"/>
<line x1="256.50" y1="209.40" x2="261.50" y2="209.40" stroke="#14305a" stroke-width="1.1"/>
<line x1="256.50" y1="227.30" x2="261.50" y2="227.30" stroke="#14305a" stroke-width="1.1"/>
<path d="M269.90,214.11 L271.45,216.95 L268.35,216.95Z" fill="#3d9443"/>
<path d="M276.80,212.31 L278.35,215.15 L275.25,215.15Z" fill="#3d9443"/>
<path d="M272.80,218.11 L274.35,220.95 L271.25,220.95Z" fill="#3d9443"/>
<path d="M276.80,221.01 L278.35,223.85 L275.25,223.85Z" fill="#3d9443"/>
<path d="M274.10,233.71 L275.65,236.55 L272.55,236.55Z" fill="#3d9443"/>
<path d="M274.10,208.91 L275.65,211.75 L272.55,211.75Z" fill="#3d9443"/>
<line x1="269.50" y1="219.50" x2="279.30" y2="219.50" stroke="#1f4a22" stroke-width="1.1"/>
<line x1="274.40" y1="210.60" x2="274.40" y2="228.40" stroke="#1f4a22" stroke-width="1.1"/>
<line x1="271.90" y1="210.60" x2="276.90" y2="210.60" stroke="#1f4a22" stroke-width="1.1"/>
<line x1="271.90" y1="228.40" x2="276.90" y2="228.40" stroke="#1f4a22" stroke-width="1.1"/>
<path d="M286.00,227.79 L287.55,224.95 L284.45,224.95Z" fill="#3a1d4d"/>
<path d="M293.00,227.79 L294.55,224.95 L291.45,224.95Z" fill="#3a1d4d"/>
<path d="M289.50,231.29 L291.05,228.45 L287.95,228.45Z" fill="#3a1d4d"/>
<path d="M288.30,236.49 L289.85,233.65 L286.75,233.65Z" fill="#3a1d4d"/>
<path d="M290.60,237.09 L292.15,234.25 L289.05,234.25Z" fill="#3a1d4d"/>
<path d="M289.50,238.49 L291.05,235.65 L287.95,235.65Z" fill="#3a1d4d"/>
<line x1="284.80" y1="232.10" x2="294.60" y2="232.10" stroke="#2a1238" stroke-width="1.1"/>
<line x1="289.70" y1="226.50" x2="289.70" y2="236.50" stroke="#2a1238" stroke-width="1.1"/>
<line x1="287.20" y1="226.50" x2="292.20" y2="226.50" stroke="#2a1238" stroke-width="1.1"/>
<line x1="287.20" y1="236.50" x2="292.20" y2="236.50" stroke="#2a1238" stroke-width="1.1"/>
<path d="M303.20,223.98 L304.75,225.80 L303.20,227.62 L301.65,225.80Z" fill="#c92f75"/>
<path d="M305.60,225.88 L307.15,227.70 L305.60,229.52 L304.05,227.70Z" fill="#c92f75"/>
<path d="M310.40,227.28 L311.95,229.10 L310.40,230.92 L308.85,229.10Z" fill="#c92f75"/>
<path d="M301.70,229.68 L303.25,231.50 L301.70,233.32 L300.15,231.50Z" fill="#c92f75"/>
<path d="M307.50,230.68 L309.05,232.50 L307.50,234.32 L305.95,232.50Z" fill="#c92f75"/>
<path d="M304.60,234.48 L306.15,236.30 L304.60,238.12 L303.05,236.30Z" fill="#c92f75"/>
<line x1="300.30" y1="231.50" x2="310.10" y2="231.50" stroke="#6a1238" stroke-width="1.1"/>
<line x1="305.20" y1="227.00" x2="305.20" y2="236.00" stroke="#6a1238" stroke-width="1.1"/>
<line x1="302.70" y1="227.00" x2="307.70" y2="227.00" stroke="#6a1238" stroke-width="1.1"/>
<line x1="302.70" y1="236.00" x2="307.70" y2="236.00" stroke="#6a1238" stroke-width="1.1"/>
<circle cx="317.10" cy="211.80" r="1.35" fill="#b09228"/>
<circle cx="323.40" cy="212.30" r="1.35" fill="#b09228"/>
<circle cx="320.50" cy="214.20" r="1.35" fill="#b09228"/>
<circle cx="318.10" cy="219.50" r="1.35" fill="#b09228"/>
<circle cx="321.40" cy="220.50" r="1.35" fill="#b09228"/>
<circle cx="320.50" cy="231.10" r="1.35" fill="#b09228"/>
<line x1="315.60" y1="217.90" x2="325.40" y2="217.90" stroke="#4a3a10" stroke-width="1.1"/>
<line x1="320.50" y1="210.90" x2="320.50" y2="224.30" stroke="#4a3a10" stroke-width="1.1"/>
<line x1="318.00" y1="210.90" x2="323.00" y2="210.90" stroke="#4a3a10" stroke-width="1.1"/>
<line x1="318.00" y1="224.30" x2="323.00" y2="224.30" stroke="#4a3a10" stroke-width="1.1"/>
<rect x="330.65" y="224.90" width="2.70" height="2.70" fill="#123d30"/>
<rect x="337.40" y="223.45" width="2.70" height="2.70" fill="#123d30"/>
<rect x="334.05" y="227.35" width="2.70" height="2.70" fill="#123d30"/>
<rect x="330.65" y="232.55" width="2.70" height="2.70" fill="#123d30"/>
<rect x="334.05" y="235.95" width="2.70" height="2.70" fill="#123d30"/>
<rect x="337.40" y="235.45" width="2.70" height="2.70" fill="#123d30"/>
<line x1="330.70" y1="231.50" x2="340.50" y2="231.50" stroke="#0c2a20" stroke-width="1.1"/>
<line x1="335.60" y1="225.80" x2="335.60" y2="237.30" stroke="#0c2a20" stroke-width="1.1"/>
<line x1="333.10" y1="225.80" x2="338.10" y2="225.80" stroke="#0c2a20" stroke-width="1.1"/>
<line x1="333.10" y1="237.30" x2="338.10" y2="237.30" stroke="#0c2a20" stroke-width="1.1"/>
<text x="213.10" y="224.80" font-size="7.3" text-anchor="middle" fill="#2e2e2e" stroke="#2e2e2e" stroke-width="0.12" textLength="81.00" lengthAdjust="spacingAndGlyphs" transform="rotate(-90 213.10 224.80)">Plasma relative activity (%)</text>
<text x="245.14" y="272.41" font-size="6.6" text-anchor="end" fill="#2e2e2e" stroke="#2e2e2e" stroke-width="0.12" transform="rotate(-45 245.14 272.41)">NC</text>
<text x="261.36" y="271.66" font-size="6.6" text-anchor="end" fill="#2e2e2e" stroke="#2e2e2e" stroke-width="0.12" transform="rotate(-45 261.36 271.66)">Hypoxia</text>
<text x="275.64" y="272.29" font-size="6.6" text-anchor="end" fill="#2e2e2e" stroke="#2e2e2e" stroke-width="0.12" transform="rotate(-45 275.64 272.29)">IgG</text>
<text x="290.94" y="272.29" font-size="6.6" text-anchor="end" fill="#2e2e2e" stroke="#2e2e2e" stroke-width="0.12" transform="rotate(-45 290.94 272.29)">Tf AB</text>
<text x="306.06" y="273.29" font-size="6.6" text-anchor="end" fill="#2e2e2e" stroke="#2e2e2e" stroke-width="0.12" transform="rotate(-45 306.06 273.29)">RNR-Tf</text>
<text x="321.24" y="272.29" font-size="6.6" text-anchor="end" fill="#2e2e2e" stroke="#2e2e2e" stroke-width="0.12" transform="rotate(-45 321.24 272.29)">RNR</text>
<text x="336.71" y="272.54" font-size="6.6" text-anchor="end" fill="#2e2e2e" stroke="#2e2e2e" stroke-width="0.12" transform="rotate(-45 336.71 272.54)">LW6</text>
<line x1="271.80" y1="291.10" x2="343.90" y2="291.10" stroke="#3a3a3a" stroke-width="1.1"/>
<text x="307.85" y="300.80" font-size="6.7" text-anchor="middle" fill="#2e2e2e" stroke="#2e2e2e" stroke-width="0.12" textLength="24.00" lengthAdjust="spacingAndGlyphs">Hypoxia</text>
<line x1="244.00" y1="196.10" x2="259.20" y2="196.10" stroke="#3a3a3a" stroke-width="1.1"/>
<circle cx="249.95" cy="192.80" r="0.8" fill="#333"/>
<circle cx="253.25" cy="192.80" r="0.8" fill="#333"/>
<line x1="274.70" y1="196.10" x2="289.30" y2="196.10" stroke="#3a3a3a" stroke-width="1.1"/>
<circle cx="280.35" cy="192.80" r="0.8" fill="#333"/>
<circle cx="283.65" cy="192.80" r="0.8" fill="#333"/>
<line x1="305.50" y1="196.10" x2="320.10" y2="196.10" stroke="#3a3a3a" stroke-width="1.1"/>
<circle cx="311.15" cy="192.80" r="0.8" fill="#333"/>
<circle cx="314.45" cy="192.80" r="0.8" fill="#333"/>
<line x1="259.30" y1="184.20" x2="335.60" y2="184.20" stroke="#3a3a3a" stroke-width="1.1"/>
<circle cx="297.45" cy="180.90" r="0.8" fill="#333"/>
<text x="236.50" y="177.80" font-size="6.5" text-anchor="start" fill="#2a2a2a" stroke="#2a2a2a" stroke-width="0.12" textLength="27.60" lengthAdjust="spacingAndGlyphs">Thrombin</text>
<line x1="404.50" y1="187.00" x2="404.50" y2="262.15" stroke="#282828" stroke-width="1.5"/>
<line x1="403.75" y1="261.40" x2="512.50" y2="261.40" stroke="#282828" stroke-width="1.5"/>
<line x1="401.70" y1="261.40" x2="404.50" y2="261.40" stroke="#282828" stroke-width="1.1"/>
<text x="399.20" y="263.80" font-size="6.7" text-anchor="end" fill="#3a3a3a" stroke="#3a3a3a" stroke-width="0.12">0</text>
<line x1="401.70" y1="243.25" x2="404.50" y2="243.25" stroke="#282828" stroke-width="1.1"/>
<text x="399.20" y="245.65" font-size="6.7" text-anchor="end" fill="#3a3a3a" stroke="#3a3a3a" stroke-width="0.12">50</text>
<line x1="401.70" y1="225.10" x2="404.50" y2="225.10" stroke="#282828" stroke-width="1.1"/>
<text x="399.20" y="227.50" font-size="6.7" text-anchor="end" fill="#3a3a3a" stroke="#3a3a3a" stroke-width="0.12">100</text>
<line x1="401.70" y1="206.95" x2="404.50" y2="206.95" stroke="#282828" stroke-width="1.1"/>
<text x="399.20" y="209.35" font-size="6.7" text-anchor="end" fill="#3a3a3a" stroke="#3a3a3a" stroke-width="0.12">150</text>
<line x1="401.70" y1="188.80" x2="404.50" y2="188.80" stroke="#282828" stroke-width="1.1"/>
<text x="399.20" y="191.20" font-size="6.7" text-anchor="end" fill="#3a3a3a" stroke="#3a3a3a" stroke-width="0.12">200</text>
<line x1="412.40" y1="261.40" x2="412.40" y2="264.20" stroke="#282828" stroke-width="1.1"/>
<line x1="427.70" y1="261.40" x2="427.70" y2="264.20" stroke="#282828" stroke-width="1.1"/>
<line x1="443.00" y1="261.40" x2="443.00" y2="264.20" stroke="#282828" stroke-width="1.1"/>
<line x1="458.50" y1="261.40" x2="458.50" y2="264.20" stroke="#282828" stroke-width="1.1"/>
<line x1="473.80" y1="261.40" x2="473.80" y2="264.20" stroke="#282828" stroke-width="1.1"/>
<line x1="489.30" y1="261.40" x2="489.30" y2="264.20" stroke="#282828" stroke-width="1.1"/>
<line x1="504.20" y1="261.40" x2="504.20" y2="264.20" stroke="#282828" stroke-width="1.1"/>
<circle cx="411.90" cy="218.10" r="1.35" fill="#bb1a35"/>
<circle cx="410.20" cy="219.80" r="1.35" fill="#bb1a35"/>
<circle cx="414.80" cy="222.70" r="1.35" fill="#bb1a35"/>
<circle cx="409.40" cy="228.20" r="1.35" fill="#bb1a35"/>
<circle cx="415.60" cy="228.70" r="1.35" fill="#bb1a35"/>
<circle cx="412.50" cy="231.90" r="1.35" fill="#bb1a35"/>
<line x1="407.50" y1="225.20" x2="417.30" y2="225.20" stroke="#5a0f1c" stroke-width="1.1"/>
<line x1="412.40" y1="219.20" x2="412.40" y2="230.20" stroke="#5a0f1c" stroke-width="1.1"/>
<line x1="409.90" y1="219.20" x2="414.90" y2="219.20" stroke="#5a0f1c" stroke-width="1.1"/>
<line x1="409.90" y1="230.20" x2="414.90" y2="230.20" stroke="#5a0f1c" stroke-width="1.1"/>
<rect x="424.15" y="201.95" width="2.70" height="2.70" fill="#1d4b8a"/>
<rect x="427.85" y="206.15" width="2.70" height="2.70" fill="#1d4b8a"/>
<rect x="423.25" y="208.85" width="2.70" height="2.70" fill="#1d4b8a"/>
<rect x="430.45" y="210.75" width="2.70" height="2.70" fill="#1d4b8a"/>
<rect x="426.75" y="213.25" width="2.70" height="2.70" fill="#1d4b8a"/>
<rect x="426.75" y="221.35" width="2.70" height="2.70" fill="#1d4b8a"/>
<line x1="422.80" y1="211.10" x2="432.60" y2="211.10" stroke="#14305a" stroke-width="1.1"/>
<line x1="427.70" y1="205.60" x2="427.70" y2="219.20" stroke="#14305a" stroke-width="1.1"/>
<line x1="425.20" y1="205.60" x2="430.20" y2="205.60" stroke="#14305a" stroke-width="1.1"/>
<line x1="425.20" y1="219.20" x2="430.20" y2="219.20" stroke="#14305a" stroke-width="1.1"/>
<path d="M445.40,197.91 L446.95,200.75 L443.85,200.75Z" fill="#3d9443"/>
<path d="M441.30,202.01 L442.85,204.85 L439.75,204.85Z" fill="#3d9443"/>
<path d="M444.80,209.41 L446.35,212.25 L443.25,212.25Z" fill="#3d9443"/>
<path d="M441.90,211.81 L443.45,214.65 L440.35,214.65Z" fill="#3d9443"/>
<path d="M446.50,212.31 L448.05,215.15 L444.95,215.15Z" fill="#3d9443"/>
<path d="M443.10,214.61 L444.65,217.45 L441.55,217.45Z" fill="#3d9443"/>
<line x1="438.10" y1="210.00" x2="447.90" y2="210.00" stroke="#1f4a22" stroke-width="1.1"/>
<line x1="443.00" y1="203.30" x2="443.00" y2="216.90" stroke="#1f4a22" stroke-width="1.1"/>
<line x1="440.50" y1="203.30" x2="445.50" y2="203.30" stroke="#1f4a22" stroke-width="1.1"/>
<line x1="440.50" y1="216.90" x2="445.50" y2="216.90" stroke="#1f4a22" stroke-width="1.1"/>
<path d="M461.50,216.29 L463.05,213.45 L459.95,213.45Z" fill="#3a1d4d"/>
<path d="M454.60,219.79 L456.15,216.95 L453.05,216.95Z" fill="#3a1d4d"/>
<path d="M459.20,221.49 L460.75,218.65 L457.65,218.65Z" fill="#3a1d4d"/>
<path d="M462.10,224.39 L463.65,221.55 L460.55,221.55Z" fill="#3a1d4d"/>
<path d="M458.10,226.69 L459.65,223.85 L456.55,223.85Z" fill="#3a1d4d"/>
<path d="M456.30,230.09 L457.85,227.25 L454.75,227.25Z" fill="#3a1d4d"/>
<line x1="453.60" y1="221.00" x2="463.40" y2="221.00" stroke="#2a1238" stroke-width="1.1"/>
<line x1="458.50" y1="217.50" x2="458.50" y2="225.60" stroke="#2a1238" stroke-width="1.1"/>
<line x1="456.00" y1="217.50" x2="461.00" y2="217.50" stroke="#2a1238" stroke-width="1.1"/>
<line x1="456.00" y1="225.60" x2="461.00" y2="225.60" stroke="#2a1238" stroke-width="1.1"/>
<path d="M474.10,215.78 L475.65,217.60 L474.10,219.42 L472.55,217.60Z" fill="#c92f75"/>
<path d="M476.90,216.78 L478.45,218.60 L476.90,220.42 L475.35,218.60Z" fill="#c92f75"/>
<path d="M470.20,219.58 L471.75,221.40 L470.20,223.22 L468.65,221.40Z" fill="#c92f75"/>
<path d="M477.40,220.08 L478.95,221.90 L477.40,223.72 L475.85,221.90Z" fill="#c92f75"/>
<path d="M473.60,221.98 L475.15,223.80 L473.60,225.62 L472.05,223.80Z" fill="#c92f75"/>
<path d="M471.70,225.38 L473.25,227.20 L471.70,229.02 L470.15,227.20Z" fill="#c92f75"/>
<line x1="468.90" y1="221.90" x2="478.70" y2="221.90" stroke="#6a1238" stroke-width="1.1"/>
<line x1="473.80" y1="218.10" x2="473.80" y2="223.80" stroke="#6a1238" stroke-width="1.1"/>
<line x1="471.30" y1="218.10" x2="476.30" y2="218.10" stroke="#6a1238" stroke-width="1.1"/>
<line x1="471.30" y1="223.80" x2="476.30" y2="223.80" stroke="#6a1238" stroke-width="1.1"/>
<circle cx="488.50" cy="195.50" r="1.35" fill="#b09228"/>
<circle cx="485.60" cy="210.90" r="1.35" fill="#b09228"/>
<circle cx="491.80" cy="210.40" r="1.35" fill="#b09228"/>
<circle cx="488.50" cy="215.70" r="1.35" fill="#b09228"/>
<circle cx="489.00" cy="219.80" r="1.35" fill="#b09228"/>
<circle cx="488.50" cy="222.90" r="1.35" fill="#b09228"/>
<line x1="484.40" y1="210.40" x2="494.20" y2="210.40" stroke="#4a3a10" stroke-width="1.1"/>
<line x1="489.30" y1="202.50" x2="489.30" y2="218.10" stroke="#4a3a10" stroke-width="1.1"/>
<line x1="486.80" y1="202.50" x2="491.80" y2="202.50" stroke="#4a3a10" stroke-width="1.1"/>
<line x1="486.80" y1="218.10" x2="491.80" y2="218.10" stroke="#4a3a10" stroke-width="1.1"/>
<rect x="502.95" y="211.95" width="2.70" height="2.70" fill="#123d30"/>
<rect x="502.95" y="216.25" width="2.70" height="2.70" fill="#123d30"/>
<rect x="506.35" y="218.65" width="2.70" height="2.70" fill="#123d30"/>
<rect x="499.65" y="221.05" width="2.70" height="2.70" fill="#123d30"/>
<rect x="504.95" y="222.45" width="2.70" height="2.70" fill="#123d30"/>
<rect x="505.85" y="226.35" width="2.70" height="2.70" fill="#123d30"/>
<rect x="500.65" y="227.35" width="2.70" height="2.70" fill="#123d30"/>
<line x1="499.30" y1="221.00" x2="509.10" y2="221.00" stroke="#0c2a20" stroke-width="1.1"/>
<line x1="504.20" y1="217.30" x2="504.20" y2="225.80" stroke="#0c2a20" stroke-width="1.1"/>
<line x1="501.70" y1="217.30" x2="506.70" y2="217.30" stroke="#0c2a20" stroke-width="1.1"/>
<line x1="501.70" y1="225.80" x2="506.70" y2="225.80" stroke="#0c2a20" stroke-width="1.1"/>
<text x="382.20" y="224.80" font-size="7.3" text-anchor="middle" fill="#2e2e2e" stroke="#2e2e2e" stroke-width="0.12" textLength="81.00" lengthAdjust="spacingAndGlyphs" transform="rotate(-90 382.20 224.80)">Plasma relative activity (%)</text>
<text x="413.64" y="272.41" font-size="6.6" text-anchor="end" fill="#2e2e2e" stroke="#2e2e2e" stroke-width="0.12" transform="rotate(-45 413.64 272.41)">NC</text>
<text x="430.06" y="271.66" font-size="6.6" text-anchor="end" fill="#2e2e2e" stroke="#2e2e2e" stroke-width="0.12" transform="rotate(-45 430.06 271.66)">Hypoxia</text>
<text x="444.24" y="272.29" font-size="6.6" text-anchor="end" fill="#2e2e2e" stroke="#2e2e2e" stroke-width="0.12" transform="rotate(-45 444.24 272.29)">IgG</text>
<text x="459.74" y="272.29" font-size="6.6" text-anchor="end" fill="#2e2e2e" stroke="#2e2e2e" stroke-width="0.12" transform="rotate(-45 459.74 272.29)">Tf AB</text>
<text x="474.66" y="273.29" font-size="6.6" text-anchor="end" fill="#2e2e2e" stroke="#2e2e2e" stroke-width="0.12" transform="rotate(-45 474.66 273.29)">RNR-Tf</text>
<text x="490.04" y="272.29" font-size="6.6" text-anchor="end" fill="#2e2e2e" stroke="#2e2e2e" stroke-width="0.12" transform="rotate(-45 490.04 272.29)">RNR</text>
<text x="505.31" y="272.54" font-size="6.6" text-anchor="end" fill="#2e2e2e" stroke="#2e2e2e" stroke-width="0.12" transform="rotate(-45 505.31 272.54)">LW6</text>
<line x1="440.40" y1="291.10" x2="512.20" y2="291.10" stroke="#3a3a3a" stroke-width="1.1"/>
<text x="476.30" y="300.80" font-size="6.7" text-anchor="middle" fill="#2e2e2e" stroke="#2e2e2e" stroke-width="0.12" textLength="24.00" lengthAdjust="spacingAndGlyphs">Hypoxia</text>
<line x1="412.80" y1="191.80" x2="427.70" y2="191.80" stroke="#3a3a3a" stroke-width="1.1"/>
<circle cx="418.60" cy="188.50" r="0.8" fill="#333"/>
<circle cx="421.90" cy="188.50" r="0.8" fill="#333"/>
<line x1="443.50" y1="192.00" x2="458.50" y2="192.00" stroke="#3a3a3a" stroke-width="1.1"/>
<circle cx="449.35" cy="188.70" r="0.8" fill="#333"/>
<circle cx="452.65" cy="188.70" r="0.8" fill="#333"/>
<line x1="474.30" y1="192.00" x2="488.70" y2="192.00" stroke="#3a3a3a" stroke-width="1.1"/>
<circle cx="479.85" cy="188.70" r="0.8" fill="#333"/>
<circle cx="483.15" cy="188.70" r="0.8" fill="#333"/>
<line x1="428.30" y1="180.90" x2="504.20" y2="180.90" stroke="#3a3a3a" stroke-width="1.1"/>
<circle cx="466.25" cy="177.60" r="0.8" fill="#333"/>
<text x="404.00" y="178.00" font-size="6.0" text-anchor="start" fill="#2a2a2a" stroke="#2a2a2a" stroke-width="0.12" textLength="14.20" lengthAdjust="spacingAndGlyphs">FXIIa</text>
<rect x="19.00" y="362.00" width="121.20" height="13.00" fill="url(#g1)" stroke="#222" stroke-width="1.35"/>
<rect x="22.10" y="364.80" width="13.40" height="4.20" rx="2.10" fill="#202020" opacity="0.180" filter="url(#bl2)"/>
<rect x="23.30" y="365.70" width="11.00" height="2.40" rx="1.20" fill="#080808" opacity="0.6" filter="url(#bl)"/>
<rect x="38.30" y="364.40" width="15.40" height="5.00" rx="2.50" fill="#202020" opacity="0.291" filter="url(#bl2)"/>
<rect x="39.50" y="365.30" width="13.00" height="3.20" rx="1.60" fill="#080808" opacity="0.97" filter="url(#bl)"/>
<rect x="54.75" y="364.60" width="14.90" height="4.60" rx="2.30" fill="#202020" opacity="0.246" filter="url(#bl2)"/>
<rect x="55.95" y="365.50" width="12.50" height="2.80" rx="1.40" fill="#080808" opacity="0.82" filter="url(#bl)"/>
<rect x="71.55" y="364.65" width="14.90" height="4.50" rx="2.25" fill="#202020" opacity="0.234" filter="url(#bl2)"/>
<rect x="72.75" y="365.55" width="12.50" height="2.70" rx="1.35" fill="#080808" opacity="0.78" filter="url(#bl)"/>
<rect x="88.20" y="364.50" width="15.40" height="4.80" rx="2.40" fill="#202020" opacity="0.255" filter="url(#bl2)"/>
<rect x="89.40" y="365.40" width="13.00" height="3.00" rx="1.50" fill="#080808" opacity="0.85" filter="url(#bl)"/>
<rect x="104.95" y="364.60" width="14.90" height="4.60" rx="2.30" fill="#202020" opacity="0.240" filter="url(#bl2)"/>
<rect x="106.15" y="365.50" width="12.50" height="2.80" rx="1.40" fill="#080808" opacity="0.8" filter="url(#bl)"/>
<rect x="122.80" y="364.90" width="13.40" height="4.00" rx="2.00" fill="#202020" opacity="0.150" filter="url(#bl2)"/>
<rect x="124.00" y="365.80" width="11.00" height="2.20" rx="1.10" fill="#080808" opacity="0.5" filter="url(#bl)"/>
<rect x="19.00" y="378.00" width="121.20" height="15.00" fill="url(#g2)" stroke="#222" stroke-width="1.35"/>
<rect x="22.10" y="382.90" width="13.40" height="5.20" rx="2.60" fill="#202020" opacity="0.276" filter="url(#bl2)"/>
<rect x="23.30" y="383.80" width="11.00" height="3.40" rx="1.70" fill="#080808" opacity="0.92" filter="url(#bl)"/>
<rect x="38.30" y="382.00" width="15.40" height="7.00" rx="3.50" fill="#202020" opacity="0.294" filter="url(#bl2)"/>
<rect x="39.50" y="382.90" width="13.00" height="5.20" rx="2.60" fill="#080808" opacity="0.98" filter="url(#bl)"/>
<rect x="55.00" y="382.20" width="14.40" height="6.60" rx="3.30" fill="#202020" opacity="0.291" filter="url(#bl2)"/>
<rect x="56.20" y="383.10" width="12.00" height="4.80" rx="2.40" fill="#080808" opacity="0.97" filter="url(#bl)"/>
<rect x="71.80" y="382.60" width="14.40" height="5.80" rx="2.90" fill="#202020" opacity="0.279" filter="url(#bl2)"/>
<rect x="73.00" y="383.50" width="12.00" height="4.00" rx="2.00" fill="#080808" opacity="0.93" filter="url(#bl)"/>
<rect x="88.70" y="382.60" width="14.40" height="5.80" rx="2.90" fill="#202020" opacity="0.279" filter="url(#bl2)"/>
<rect x="89.90" y="383.50" width="12.00" height="4.00" rx="2.00" fill="#080808" opacity="0.93" filter="url(#bl)"/>
<rect x="105.20" y="381.40" width="14.40" height="7.60" rx="3.50" fill="#202020" opacity="0.297" filter="url(#bl2)"/>
<rect x="106.40" y="382.30" width="12.00" height="5.80" rx="2.90" fill="#080808" opacity="0.99" filter="url(#bl)"/>
<rect x="122.30" y="382.30" width="14.40" height="6.40" rx="3.20" fill="#202020" opacity="0.285" filter="url(#bl2)"/>
<rect x="123.50" y="383.20" width="12.00" height="4.60" rx="2.30" fill="#080808" opacity="0.95" filter="url(#bl)"/>
<rect x="19.00" y="395.00" width="121.20" height="10.90" fill="url(#g2)" stroke="#222" stroke-width="1.35"/>
<rect x="20.35" y="397.85" width="16.90" height="6.00" rx="3.00" fill="#202020" opacity="0.291" filter="url(#bl2)"/>
<rect x="21.55" y="398.75" width="14.50" height="4.20" rx="2.10" fill="#080808" opacity="0.97" filter="url(#bl)"/>
<rect x="37.80" y="397.85" width="16.40" height="6.00" rx="3.00" fill="#202020" opacity="0.291" filter="url(#bl2)"/>
<rect x="39.00" y="398.75" width="14.00" height="4.20" rx="2.10" fill="#080808" opacity="0.97" filter="url(#bl)"/>
<rect x="54.00" y="397.95" width="16.40" height="6.20" rx="3.10" fill="#202020" opacity="0.291" filter="url(#bl2)"/>
<rect x="55.20" y="398.85" width="14.00" height="4.40" rx="2.20" fill="#080808" opacity="0.97" filter="url(#bl)"/>
<rect x="70.80" y="397.95" width="16.40" height="5.80" rx="2.90" fill="#202020" opacity="0.288" filter="url(#bl2)"/>
<rect x="72.00" y="398.85" width="14.00" height="4.00" rx="2.00" fill="#080808" opacity="0.96" filter="url(#bl)"/>
<rect x="87.70" y="397.95" width="16.40" height="5.80" rx="2.90" fill="#202020" opacity="0.288" filter="url(#bl2)"/>
<rect x="88.90" y="398.85" width="14.00" height="4.00" rx="2.00" fill="#080808" opacity="0.96" filter="url(#bl)"/>
<rect x="104.20" y="397.35" width="16.40" height="6.20" rx="3.10" fill="#202020" opacity="0.291" filter="url(#bl2)"/>
<rect x="105.40" y="398.25" width="14.00" height="4.40" rx="2.20" fill="#080808" opacity="0.97" filter="url(#bl)"/>
<rect x="122.05" y="397.55" width="14.90" height="5.40" rx="2.70" fill="#202020" opacity="0.285" filter="url(#bl2)"/>
<rect x="123.25" y="398.45" width="12.50" height="3.60" rx="1.80" fill="#080808" opacity="0.95" filter="url(#bl)"/>
<text x="16.50" y="367.80" font-size="6.3" text-anchor="end" fill="#1a1a1a" stroke="#1a1a1a" stroke-width="0.12">130.0</text>
<text x="16.50" y="376.10" font-size="6.3" text-anchor="end" fill="#1a1a1a" stroke="#1a1a1a" stroke-width="0.12">100.0</text>
<text x="16.50" y="383.60" font-size="6.3" text-anchor="end" fill="#1a1a1a" stroke="#1a1a1a" stroke-width="0.12">100.0</text>
<text x="16.50" y="393.60" font-size="6.3" text-anchor="end" fill="#1a1a1a" stroke="#1a1a1a" stroke-width="0.12">70.0</text>
<text x="16.50" y="400.30" font-size="6.3" text-anchor="end" fill="#1a1a1a" stroke="#1a1a1a" stroke-width="0.12">55.0</text>
<text x="16.50" y="409.80" font-size="6.3" text-anchor="end" fill="#1a1a1a" stroke="#1a1a1a" stroke-width="0.12">35.0</text>
<text x="143.70" y="371.80" font-size="6.5" text-anchor="start" fill="#1a1a1a" stroke="#1a1a1a" stroke-width="0.12">HIF-1α</text>
<text x="143.70" y="388.00" font-size="6.5" text-anchor="start" fill="#1a1a1a" stroke="#1a1a1a" stroke-width="0.12">Transferrin</text>
<text x="143.70" y="400.70" font-size="6.5" text-anchor="start" fill="#1a1a1a" stroke="#1a1a1a" stroke-width="0.12">β-actin</text>
<text x="4.40" y="358.80" font-size="6.5" text-anchor="start" fill="#1a1a1a" stroke="#1a1a1a" stroke-width="0.12" textLength="12.00" lengthAdjust="spacingAndGlyphs">KDa</text>
<text x="23.80" y="353.80" font-size="6.8" text-anchor="start" fill="#1a1a1a" stroke="#1a1a1a" stroke-width="0.12" textLength="28.00" lengthAdjust="spacingAndGlyphs">Mice liver</text>
<text x="33.44" y="414.71" font-size="6.6" text-anchor="end" fill="#2e2e2e" stroke="#2e2e2e" stroke-width="0.12" transform="rotate(-45 33.44 414.71)">NC</text>
<text x="48.41" y="412.91" font-size="6.6" text-anchor="end" fill="#2e2e2e" stroke="#2e2e2e" stroke-width="0.12" transform="rotate(-45 48.41 412.91)">Low</text>
<text x="53.61" y="414.99" font-size="6.6" text-anchor="end" fill="#2e2e2e" stroke="#2e2e2e" stroke-width="0.12" transform="rotate(-45 53.61 414.99)">temperature</text>
<text x="70.94" y="414.59" font-size="6.6" text-anchor="end" fill="#2e2e2e" stroke="#2e2e2e" stroke-width="0.12" transform="rotate(-45 70.94 414.59)">IgG</text>
<text x="86.74" y="414.39" font-size="6.6" text-anchor="end" fill="#2e2e2e" stroke="#2e2e2e" stroke-width="0.12" transform="rotate(-45 86.74 414.39)">Tf AB</text>
<text x="104.06" y="416.19" font-size="6.6" text-anchor="end" fill="#2e2e2e" stroke="#2e2e2e" stroke-width="0.12" transform="rotate(-45 104.06 416.19)">RNR-Tf</text>
<text x="122.34" y="414.39" font-size="6.6" text-anchor="end" fill="#2e2e2e" stroke="#2e2e2e" stroke-width="0.12" transform="rotate(-45 122.34 414.39)">RNR</text>
<text x="140.41" y="415.44" font-size="6.6" text-anchor="end" fill="#2e2e2e" stroke="#2e2e2e" stroke-width="0.12" transform="rotate(-45 140.41 415.44)">LW6</text>
<line x1="73.65" y1="434.90" x2="146.00" y2="434.90" stroke="#3a3a3a" stroke-width="1.1"/>
<text x="110.00" y="444.40" font-size="6.7" text-anchor="middle" fill="#2e2e2e" stroke="#2e2e2e" stroke-width="0.12" textLength="50.30" lengthAdjust="spacingAndGlyphs">Low temperature</text>
<line x1="235.80" y1="348.50" x2="235.80" y2="421.75" stroke="#282828" stroke-width="1.5"/>
<line x1="235.05" y1="421.00" x2="347.00" y2="421.00" stroke="#282828" stroke-width="1.5"/>
<line x1="233.00" y1="421.00" x2="235.80" y2="421.00" stroke="#282828" stroke-width="1.1"/>
<text x="231.10" y="423.40" font-size="6.7" text-anchor="end" fill="#3a3a3a" stroke="#3a3a3a" stroke-width="0.12">0</text>
<line x1="233.00" y1="403.23" x2="235.80" y2="403.23" stroke="#282828" stroke-width="1.1"/>
<text x="231.10" y="405.62" font-size="6.7" text-anchor="end" fill="#3a3a3a" stroke="#3a3a3a" stroke-width="0.12">100</text>
<line x1="233.00" y1="385.45" x2="235.80" y2="385.45" stroke="#282828" stroke-width="1.1"/>
<text x="231.10" y="387.85" font-size="6.7" text-anchor="end" fill="#3a3a3a" stroke="#3a3a3a" stroke-width="0.12">200</text>
<line x1="233.00" y1="367.67" x2="235.80" y2="367.67" stroke="#282828" stroke-width="1.1"/>
<text x="231.10" y="370.07" font-size="6.7" text-anchor="end" fill="#3a3a3a" stroke="#3a3a3a" stroke-width="0.12">300</text>
<line x1="233.00" y1="349.90" x2="235.80" y2="349.90" stroke="#282828" stroke-width="1.1"/>
<text x="231.10" y="352.30" font-size="6.7" text-anchor="end" fill="#3a3a3a" stroke="#3a3a3a" stroke-width="0.12">400</text>
<line x1="244.60" y1="421.00" x2="244.60" y2="423.80" stroke="#282828" stroke-width="1.1"/>
<line x1="258.80" y1="421.00" x2="258.80" y2="423.80" stroke="#282828" stroke-width="1.1"/>
<line x1="275.70" y1="421.00" x2="275.70" y2="423.80" stroke="#282828" stroke-width="1.1"/>
<line x1="289.70" y1="421.00" x2="289.70" y2="423.80" stroke="#282828" stroke-width="1.1"/>
<line x1="306.70" y1="421.00" x2="306.70" y2="423.80" stroke="#282828" stroke-width="1.1"/>
<line x1="321.00" y1="421.00" x2="321.00" y2="423.80" stroke="#282828" stroke-width="1.1"/>
<line x1="338.00" y1="421.00" x2="338.00" y2="423.80" stroke="#282828" stroke-width="1.1"/>
<rect x="238.65" y="400.80" width="11.90" height="19.45" fill="#db786a"/>
<rect x="252.85" y="372.90" width="11.90" height="47.35" fill="#7686ad"/>
<rect x="269.75" y="372.90" width="11.90" height="47.35" fill="#9ec986"/>
<rect x="283.75" y="372.00" width="11.90" height="48.25" fill="#976f9d"/>
<rect x="300.75" y="375.00" width="11.90" height="45.25" fill="#e98ab4"/>
<rect x="315.05" y="374.20" width="11.90" height="46.05" fill="#f9d77c"/>
<rect x="332.05" y="399.40" width="11.90" height="20.85" fill="#789a8a"/>
<line x1="244.60" y1="398.00" x2="244.60" y2="404.00" stroke="#6a0e1c" stroke-width="1.2"/>
<line x1="242.10" y1="398.00" x2="247.10" y2="398.00" stroke="#6a0e1c" stroke-width="1.2"/>
<line x1="242.10" y1="404.00" x2="247.10" y2="404.00" stroke="#6a0e1c" stroke-width="1.2"/>
<circle cx="241.50" cy="398.00" r="1.35" fill="#c0142e"/>
<circle cx="243.00" cy="400.00" r="1.35" fill="#c0142e"/>
<circle cx="246.50" cy="400.00" r="1.35" fill="#c0142e"/>
<circle cx="244.00" cy="403.00" r="1.35" fill="#c0142e"/>
<circle cx="242.50" cy="404.50" r="1.35" fill="#c0142e"/>
<circle cx="245.50" cy="401.50" r="1.35" fill="#c0142e"/>
<line x1="258.80" y1="366.00" x2="258.80" y2="382.10" stroke="#102850" stroke-width="1.2"/>
<line x1="256.30" y1="366.00" x2="261.30" y2="366.00" stroke="#102850" stroke-width="1.2"/>
<line x1="256.30" y1="382.10" x2="261.30" y2="382.10" stroke="#102850" stroke-width="1.2"/>
<rect x="254.15" y="364.15" width="2.70" height="2.70" fill="#15346a"/>
<rect x="256.65" y="364.15" width="2.70" height="2.70" fill="#15346a"/>
<rect x="259.65" y="365.15" width="2.70" height="2.70" fill="#15346a"/>
<rect x="255.65" y="373.15" width="2.70" height="2.70" fill="#15346a"/>
<rect x="259.15" y="377.15" width="2.70" height="2.70" fill="#15346a"/>
<rect x="257.15" y="385.65" width="2.70" height="2.70" fill="#15346a"/>
<line x1="275.70" y1="363.30" x2="275.70" y2="382.50" stroke="#184a1e" stroke-width="1.2"/>
<line x1="273.20" y1="363.30" x2="278.20" y2="363.30" stroke="#184a1e" stroke-width="1.2"/>
<line x1="273.20" y1="382.50" x2="278.20" y2="382.50" stroke="#184a1e" stroke-width="1.2"/>
<path d="M272.50,364.81 L274.05,367.65 L270.95,367.65Z" fill="#2a6a30"/>
<path d="M279.50,364.81 L281.05,367.65 L277.95,367.65Z" fill="#2a6a30"/>
<path d="M276.00,368.31 L277.55,371.15 L274.45,371.15Z" fill="#2a6a30"/>
<path d="M275.50,373.31 L277.05,376.15 L273.95,376.15Z" fill="#2a6a30"/>
<path d="M275.50,388.31 L277.05,391.15 L273.95,391.15Z" fill="#2a6a30"/>
<path d="M275.70,379.31 L277.25,382.15 L274.15,382.15Z" fill="#2a6a30"/>
<line x1="289.70" y1="363.30" x2="289.70" y2="381.30" stroke="#24102e" stroke-width="1.2"/>
<line x1="287.20" y1="363.30" x2="292.20" y2="363.30" stroke="#24102e" stroke-width="1.2"/>
<line x1="287.20" y1="381.30" x2="292.20" y2="381.30" stroke="#24102e" stroke-width="1.2"/>
<path d="M289.50,361.69 L291.05,358.85 L287.95,358.85Z" fill="#3a1848"/>
<path d="M290.50,367.69 L292.05,364.85 L288.95,364.85Z" fill="#3a1848"/>
<path d="M292.50,370.19 L294.05,367.35 L290.95,367.35Z" fill="#3a1848"/>
<path d="M286.50,373.19 L288.05,370.35 L284.95,370.35Z" fill="#3a1848"/>
<path d="M290.00,377.69 L291.55,374.85 L288.45,374.85Z" fill="#3a1848"/>
<path d="M289.50,387.19 L291.05,384.35 L287.95,384.35Z" fill="#3a1848"/>
<line x1="306.70" y1="364.10" x2="306.70" y2="384.80" stroke="#6a1436" stroke-width="1.2"/>
<line x1="304.20" y1="364.10" x2="309.20" y2="364.10" stroke="#6a1436" stroke-width="1.2"/>
<line x1="304.20" y1="384.80" x2="309.20" y2="384.80" stroke="#6a1436" stroke-width="1.2"/>
<path d="M306.60,361.68 L308.15,363.50 L306.60,365.32 L305.05,363.50Z" fill="#a01e52"/>
<path d="M309.00,364.18 L310.55,366.00 L309.00,367.82 L307.45,366.00Z" fill="#a01e52"/>
<path d="M304.50,368.18 L306.05,370.00 L304.50,371.82 L302.95,370.00Z" fill="#a01e52"/>
<path d="M304.50,378.18 L306.05,380.00 L304.50,381.82 L302.95,380.00Z" fill="#a01e52"/>
<path d="M309.00,378.18 L310.55,380.00 L309.00,381.82 L307.45,380.00Z" fill="#a01e52"/>
<path d="M306.50,387.68 L308.05,389.50 L306.50,391.32 L304.95,389.50Z" fill="#a01e52"/>
<line x1="321.00" y1="366.50" x2="321.00" y2="382.40" stroke="#2e2408" stroke-width="1.2"/>
<line x1="318.50" y1="366.50" x2="323.50" y2="366.50" stroke="#2e2408" stroke-width="1.2"/>
<line x1="318.50" y1="382.40" x2="323.50" y2="382.40" stroke="#2e2408" stroke-width="1.2"/>
<circle cx="317.00" cy="370.00" r="1.35" fill="#3a2e10"/>
<circle cx="324.00" cy="370.00" r="1.35" fill="#3a2e10"/>
<circle cx="320.50" cy="374.00" r="1.35" fill="#3a2e10"/>
<circle cx="321.00" cy="378.00" r="1.35" fill="#3a2e10"/>
<circle cx="320.50" cy="381.00" r="1.35" fill="#3a2e10"/>
<circle cx="320.50" cy="389.00" r="1.35" fill="#3a2e10"/>
<line x1="338.00" y1="398.00" x2="338.00" y2="401.00" stroke="#0a241a" stroke-width="1.2"/>
<line x1="335.50" y1="398.00" x2="340.50" y2="398.00" stroke="#0a241a" stroke-width="1.2"/>
<line x1="335.50" y1="401.00" x2="340.50" y2="401.00" stroke="#0a241a" stroke-width="1.2"/>
<rect x="333.15" y="397.65" width="2.70" height="2.70" fill="#0e3026"/>
<rect x="335.65" y="398.65" width="2.70" height="2.70" fill="#0e3026"/>
<rect x="338.65" y="396.15" width="2.70" height="2.70" fill="#0e3026"/>
<rect x="338.15" y="399.65" width="2.70" height="2.70" fill="#0e3026"/>
<rect x="335.15" y="400.65" width="2.70" height="2.70" fill="#0e3026"/>
<rect x="339.65" y="397.65" width="2.70" height="2.70" fill="#0e3026"/>
<text x="202.60" y="383.70" font-size="7.3" text-anchor="middle" fill="#2e2e2e" stroke="#2e2e2e" stroke-width="0.12" textLength="60.60" lengthAdjust="spacingAndGlyphs" transform="rotate(-90 202.60 383.70)">Relative density (%)</text>
<text x="213.40" y="383.65" font-size="7.3" text-anchor="middle" fill="#2e2e2e" stroke="#2e2e2e" stroke-width="0.12" textLength="50.70" lengthAdjust="spacingAndGlyphs" transform="rotate(-90 213.40 383.65)">(HIF-1α/β-actin)</text>
<text x="248.44" y="429.81" font-size="6.6" text-anchor="end" fill="#2e2e2e" stroke="#2e2e2e" stroke-width="0.12" transform="rotate(-45 248.44 429.81)">NC</text>
<text x="259.31" y="428.71" font-size="6.6" text-anchor="end" fill="#2e2e2e" stroke="#2e2e2e" stroke-width="0.12" transform="rotate(-45 259.31 428.71)">Low</text>
<text x="264.86" y="431.74" font-size="6.6" text-anchor="end" fill="#2e2e2e" stroke="#2e2e2e" stroke-width="0.12" transform="rotate(-45 264.86 431.74)">temperature</text>
<text x="279.04" y="429.69" font-size="6.6" text-anchor="end" fill="#2e2e2e" stroke="#2e2e2e" stroke-width="0.12" transform="rotate(-45 279.04 429.69)">IgG</text>
<text x="294.04" y="429.69" font-size="6.6" text-anchor="end" fill="#2e2e2e" stroke="#2e2e2e" stroke-width="0.12" transform="rotate(-45 294.04 429.69)">Tf AB</text>
<text x="310.21" y="430.99" font-size="6.6" text-anchor="end" fill="#2e2e2e" stroke="#2e2e2e" stroke-width="0.12" transform="rotate(-45 310.21 430.99)">RNR-Tf</text>
<text x="323.54" y="430.39" font-size="6.6" text-anchor="end" fill="#2e2e2e" stroke="#2e2e2e" stroke-width="0.12" transform="rotate(-45 323.54 430.39)">RNR</text>
<text x="342.06" y="430.54" font-size="6.6" text-anchor="end" fill="#2e2e2e" stroke="#2e2e2e" stroke-width="0.12" transform="rotate(-45 342.06 430.54)">LW6</text>
<line x1="268.65" y1="446.10" x2="341.30" y2="446.10" stroke="#3a3a3a" stroke-width="1.1"/>
<text x="305.00" y="456.20" font-size="6.7" text-anchor="middle" fill="#2e2e2e" stroke="#2e2e2e" stroke-width="0.12" textLength="50.30" lengthAdjust="spacingAndGlyphs">Low temperature</text>
<line x1="244.50" y1="356.40" x2="257.40" y2="356.40" stroke="#3a3a3a" stroke-width="1.1"/>
<circle cx="249.30" cy="353.10" r="0.8" fill="#333"/>
<circle cx="252.60" cy="353.10" r="0.8" fill="#333"/>
<line x1="260.60" y1="356.40" x2="335.10" y2="356.40" stroke="#3a3a3a" stroke-width="1.1"/>
<circle cx="296.20" cy="353.10" r="0.8" fill="#333"/>
<circle cx="299.50" cy="353.10" r="0.8" fill="#333"/>
<line x1="405.35" y1="345.60" x2="405.35" y2="420.35" stroke="#282828" stroke-width="1.5"/>
<line x1="404.60" y1="419.60" x2="510.40" y2="419.60" stroke="#282828" stroke-width="1.5"/>
<line x1="402.55" y1="419.60" x2="405.35" y2="419.60" stroke="#282828" stroke-width="1.1"/>
<text x="401.10" y="422.00" font-size="6.7" text-anchor="end" fill="#3a3a3a" stroke="#3a3a3a" stroke-width="0.12">0</text>
<line x1="402.55" y1="401.83" x2="405.35" y2="401.83" stroke="#282828" stroke-width="1.1"/>
<text x="401.10" y="404.23" font-size="6.7" text-anchor="end" fill="#3a3a3a" stroke="#3a3a3a" stroke-width="0.12">50</text>
<line x1="402.55" y1="384.05" x2="405.35" y2="384.05" stroke="#282828" stroke-width="1.1"/>
<text x="401.10" y="386.45" font-size="6.7" text-anchor="end" fill="#3a3a3a" stroke="#3a3a3a" stroke-width="0.12">100</text>
<line x1="402.55" y1="366.27" x2="405.35" y2="366.27" stroke="#282828" stroke-width="1.1"/>
<text x="401.10" y="368.67" font-size="6.7" text-anchor="end" fill="#3a3a3a" stroke="#3a3a3a" stroke-width="0.12">150</text>
<line x1="402.55" y1="348.50" x2="405.35" y2="348.50" stroke="#282828" stroke-width="1.1"/>
<text x="401.10" y="350.90" font-size="6.7" text-anchor="end" fill="#3a3a3a" stroke="#3a3a3a" stroke-width="0.12">200</text>
<line x1="413.20" y1="419.60" x2="413.20" y2="422.40" stroke="#282828" stroke-width="1.1"/>
<line x1="426.80" y1="419.60" x2="426.80" y2="422.40" stroke="#282828" stroke-width="1.1"/>
<line x1="442.90" y1="419.60" x2="442.90" y2="422.40" stroke="#282828" stroke-width="1.1"/>
<line x1="456.40" y1="419.60" x2="456.40" y2="422.40" stroke="#282828" stroke-width="1.1"/>
<line x1="472.30" y1="419.60" x2="472.30" y2="422.40" stroke="#282828" stroke-width="1.1"/>
<line x1="486.00" y1="419.60" x2="486.00" y2="422.40" stroke="#282828" stroke-width="1.1"/>
<line x1="502.00" y1="419.60" x2="502.00" y2="422.40" stroke="#282828" stroke-width="1.1"/>
<rect x="407.30" y="382.80" width="11.80" height="36.05" fill="#db786a"/>
<rect x="420.90" y="367.20" width="11.80" height="51.65" fill="#7686ad"/>
<rect x="437.00" y="366.10" width="11.80" height="52.75" fill="#9ec986"/>
<rect x="450.50" y="380.70" width="11.80" height="38.15" fill="#976f9d"/>
<rect x="466.40" y="376.20" width="11.80" height="42.65" fill="#e98ab4"/>
<rect x="480.10" y="361.50" width="11.80" height="57.35" fill="#f9d77c"/>
<rect x="496.10" y="382.50" width="11.80" height="36.35" fill="#789a8a"/>
<line x1="413.20" y1="380.10" x2="413.20" y2="386.60" stroke="#6a0e1c" stroke-width="1.2"/>
<line x1="410.70" y1="380.10" x2="415.70" y2="380.10" stroke="#6a0e1c" stroke-width="1.2"/>
<line x1="410.70" y1="386.60" x2="415.70" y2="386.60" stroke="#6a0e1c" stroke-width="1.2"/>
<circle cx="411.00" cy="377.80" r="1.35" fill="#c0142e"/>
<circle cx="417.50" cy="380.50" r="1.35" fill="#c0142e"/>
<circle cx="410.50" cy="384.50" r="1.35" fill="#c0142e"/>
<circle cx="413.00" cy="386.50" r="1.35" fill="#c0142e"/>
<circle cx="415.00" cy="384.50" r="1.35" fill="#c0142e"/>
<circle cx="412.00" cy="387.00" r="1.35" fill="#c0142e"/>
<line x1="426.80" y1="364.00" x2="426.80" y2="372.00" stroke="#102850" stroke-width="1.2"/>
<line x1="424.30" y1="364.00" x2="429.30" y2="364.00" stroke="#102850" stroke-width="1.2"/>
<line x1="424.30" y1="372.00" x2="429.30" y2="372.00" stroke="#102850" stroke-width="1.2"/>
<rect x="423.65" y="361.45" width="2.70" height="2.70" fill="#15346a"/>
<rect x="426.65" y="361.15" width="2.70" height="2.70" fill="#15346a"/>
<rect x="423.15" y="366.65" width="2.70" height="2.70" fill="#15346a"/>
<rect x="428.15" y="366.65" width="2.70" height="2.70" fill="#15346a"/>
<rect x="425.15" y="369.65" width="2.70" height="2.70" fill="#15346a"/>
<rect x="425.65" y="371.65" width="2.70" height="2.70" fill="#15346a"/>
<line x1="442.90" y1="360.20" x2="442.90" y2="372.60" stroke="#184a1e" stroke-width="1.2"/>
<line x1="440.40" y1="360.20" x2="445.40" y2="360.20" stroke="#184a1e" stroke-width="1.2"/>
<line x1="440.40" y1="372.60" x2="445.40" y2="372.60" stroke="#184a1e" stroke-width="1.2"/>
<path d="M440.50,358.31 L442.05,361.15 L438.95,361.15Z" fill="#2a6a30"/>
<path d="M443.00,359.31 L444.55,362.15 L441.45,362.15Z" fill="#2a6a30"/>
<path d="M445.00,358.81 L446.55,361.65 L443.45,361.65Z" fill="#2a6a30"/>
<path d="M443.00,365.31 L444.55,368.15 L441.45,368.15Z" fill="#2a6a30"/>
<path d="M441.50,369.81 L443.05,372.65 L439.95,372.65Z" fill="#2a6a30"/>
<path d="M442.50,374.31 L444.05,377.15 L440.95,377.15Z" fill="#2a6a30"/>
<line x1="456.40" y1="375.30" x2="456.40" y2="385.50" stroke="#24102e" stroke-width="1.2"/>
<line x1="453.90" y1="375.30" x2="458.90" y2="375.30" stroke="#24102e" stroke-width="1.2"/>
<line x1="453.90" y1="385.50" x2="458.90" y2="385.50" stroke="#24102e" stroke-width="1.2"/>
<path d="M456.50,374.69 L458.05,371.85 L454.95,371.85Z" fill="#3a1848"/>
<path d="M453.00,380.19 L454.55,377.35 L451.45,377.35Z" fill="#3a1848"/>
<path d="M459.50,378.19 L461.05,375.35 L457.95,375.35Z" fill="#3a1848"/>
<path d="M456.00,382.19 L457.55,379.35 L454.45,379.35Z" fill="#3a1848"/>
<path d="M455.00,387.19 L456.55,384.35 L453.45,384.35Z" fill="#3a1848"/>
<path d="M457.50,387.19 L459.05,384.35 L455.95,384.35Z" fill="#3a1848"/>
<line x1="472.30" y1="371.50" x2="472.30" y2="380.00" stroke="#6a1436" stroke-width="1.2"/>
<line x1="469.80" y1="371.50" x2="474.80" y2="371.50" stroke="#6a1436" stroke-width="1.2"/>
<line x1="469.80" y1="380.00" x2="474.80" y2="380.00" stroke="#6a1436" stroke-width="1.2"/>
<path d="M470.00,369.18 L471.55,371.00 L470.00,372.82 L468.45,371.00Z" fill="#a01e52"/>
<path d="M474.00,370.18 L475.55,372.00 L474.00,373.82 L472.45,372.00Z" fill="#a01e52"/>
<path d="M473.50,373.68 L475.05,375.50 L473.50,377.32 L471.95,375.50Z" fill="#a01e52"/>
<path d="M474.50,377.68 L476.05,379.50 L474.50,381.32 L472.95,379.50Z" fill="#a01e52"/>
<path d="M470.50,380.18 L472.05,382.00 L470.50,383.82 L468.95,382.00Z" fill="#a01e52"/>
<path d="M473.00,382.18 L474.55,384.00 L473.00,385.82 L471.45,384.00Z" fill="#a01e52"/>
<line x1="486.00" y1="359.80" x2="486.00" y2="365.50" stroke="#2e2408" stroke-width="1.2"/>
<line x1="483.50" y1="359.80" x2="488.50" y2="359.80" stroke="#2e2408" stroke-width="1.2"/>
<line x1="483.50" y1="365.50" x2="488.50" y2="365.50" stroke="#2e2408" stroke-width="1.2"/>
<circle cx="483.50" cy="359.00" r="1.35" fill="#3a2e10"/>
<circle cx="489.50" cy="360.00" r="1.35" fill="#3a2e10"/>
<circle cx="485.00" cy="363.00" r="1.35" fill="#3a2e10"/>
<circle cx="487.00" cy="364.50" r="1.35" fill="#3a2e10"/>
<circle cx="484.50" cy="366.50" r="1.35" fill="#3a2e10"/>
<circle cx="486.00" cy="367.50" r="1.35" fill="#3a2e10"/>
<line x1="502.00" y1="379.50" x2="502.00" y2="385.50" stroke="#0a241a" stroke-width="1.2"/>
<line x1="499.50" y1="379.50" x2="504.50" y2="379.50" stroke="#0a241a" stroke-width="1.2"/>
<line x1="499.50" y1="385.50" x2="504.50" y2="385.50" stroke="#0a241a" stroke-width="1.2"/>
<rect x="497.15" y="378.65" width="2.70" height="2.70" fill="#0e3026"/>
<rect x="503.15" y="378.15" width="2.70" height="2.70" fill="#0e3026"/>
<rect x="499.15" y="381.65" width="2.70" height="2.70" fill="#0e3026"/>
<rect x="502.15" y="382.65" width="2.70" height="2.70" fill="#0e3026"/>
<rect x="498.65" y="384.15" width="2.70" height="2.70" fill="#0e3026"/>
<rect x="500.65" y="386.15" width="2.70" height="2.70" fill="#0e3026"/>
<text x="371.90" y="383.70" font-size="7.3" text-anchor="middle" fill="#2e2e2e" stroke="#2e2e2e" stroke-width="0.12" textLength="60.60" lengthAdjust="spacingAndGlyphs" transform="rotate(-90 371.90 383.70)">Relative density (%)</text>
<text x="382.50" y="383.70" font-size="7.3" text-anchor="middle" fill="#2e2e2e" stroke="#2e2e2e" stroke-width="0.12" textLength="60.60" lengthAdjust="spacingAndGlyphs" transform="rotate(-90 382.50 383.70)">(transferrin/β-actin)</text>
<text x="415.69" y="429.21" font-size="6.6" text-anchor="end" fill="#2e2e2e" stroke="#2e2e2e" stroke-width="0.12" transform="rotate(-45 415.69 429.21)">NC</text>
<text x="425.91" y="428.06" font-size="6.6" text-anchor="end" fill="#2e2e2e" stroke="#2e2e2e" stroke-width="0.12" transform="rotate(-45 425.91 428.06)">Low</text>
<text x="431.71" y="430.09" font-size="6.6" text-anchor="end" fill="#2e2e2e" stroke="#2e2e2e" stroke-width="0.12" transform="rotate(-45 431.71 430.09)">temperature</text>
<text x="444.69" y="428.44" font-size="6.6" text-anchor="end" fill="#2e2e2e" stroke="#2e2e2e" stroke-width="0.12" transform="rotate(-45 444.69 428.44)">IgG</text>
<text x="456.54" y="430.29" font-size="6.6" text-anchor="end" fill="#2e2e2e" stroke="#2e2e2e" stroke-width="0.12" transform="rotate(-45 456.54 430.29)">Tf AB</text>
<text x="475.56" y="430.09" font-size="6.6" text-anchor="end" fill="#2e2e2e" stroke="#2e2e2e" stroke-width="0.12" transform="rotate(-45 475.56 430.09)">RNR-Tf</text>
<text x="491.04" y="429.69" font-size="6.6" text-anchor="end" fill="#2e2e2e" stroke="#2e2e2e" stroke-width="0.12" transform="rotate(-45 491.04 429.69)">RNR</text>
<text x="507.06" y="429.94" font-size="6.6" text-anchor="end" fill="#2e2e2e" stroke="#2e2e2e" stroke-width="0.12" transform="rotate(-45 507.06 429.94)">LW6</text>
<line x1="438.30" y1="444.65" x2="510.45" y2="444.65" stroke="#3a3a3a" stroke-width="1.1"/>
<text x="474.10" y="454.70" font-size="6.7" text-anchor="middle" fill="#2e2e2e" stroke="#2e2e2e" stroke-width="0.12" textLength="50.30" lengthAdjust="spacingAndGlyphs">Low temperature</text>
<line x1="411.00" y1="355.20" x2="425.10" y2="355.20" stroke="#3a3a3a" stroke-width="1.1"/>
<circle cx="416.40" cy="351.90" r="0.8" fill="#333"/>
<circle cx="419.70" cy="351.90" r="0.8" fill="#333"/>
<line x1="443.50" y1="355.20" x2="457.00" y2="355.20" stroke="#3a3a3a" stroke-width="1.1"/>
<circle cx="448.60" cy="351.90" r="0.8" fill="#333"/>
<circle cx="451.90" cy="351.90" r="0.8" fill="#333"/>
<line x1="473.40" y1="355.20" x2="485.70" y2="355.20" stroke="#3a3a3a" stroke-width="1.1"/>
<circle cx="477.90" cy="351.90" r="0.8" fill="#333"/>
<circle cx="481.20" cy="351.90" r="0.8" fill="#333"/>
<line x1="427.70" y1="345.50" x2="499.80" y2="345.50" stroke="#3a3a3a" stroke-width="1.1"/>
<circle cx="462.10" cy="342.20" r="0.8" fill="#333"/>
<circle cx="465.40" cy="342.20" r="0.8" fill="#333"/>
<line x1="34.90" y1="502.50" x2="34.90" y2="578.95" stroke="#282828" stroke-width="1.5"/>
<line x1="34.15" y1="578.20" x2="144.60" y2="578.20" stroke="#282828" stroke-width="1.5"/>
<line x1="32.10" y1="578.20" x2="34.90" y2="578.20" stroke="#282828" stroke-width="1.1"/>
<text x="29.00" y="580.60" font-size="6.7" text-anchor="end" fill="#3a3a3a" stroke="#3a3a3a" stroke-width="0.12">0</text>
<line x1="32.10" y1="560.00" x2="34.90" y2="560.00" stroke="#282828" stroke-width="1.1"/>
<text x="29.00" y="562.40" font-size="6.7" text-anchor="end" fill="#3a3a3a" stroke="#3a3a3a" stroke-width="0.12">1</text>
<line x1="32.10" y1="541.80" x2="34.90" y2="541.80" stroke="#282828" stroke-width="1.1"/>
<text x="29.00" y="544.20" font-size="6.7" text-anchor="end" fill="#3a3a3a" stroke="#3a3a3a" stroke-width="0.12">2</text>
<line x1="32.10" y1="523.60" x2="34.90" y2="523.60" stroke="#282828" stroke-width="1.1"/>
<text x="29.00" y="526.00" font-size="6.7" text-anchor="end" fill="#3a3a3a" stroke="#3a3a3a" stroke-width="0.12">3</text>
<line x1="32.10" y1="505.40" x2="34.90" y2="505.40" stroke="#282828" stroke-width="1.1"/>
<text x="29.00" y="507.80" font-size="6.7" text-anchor="end" fill="#3a3a3a" stroke="#3a3a3a" stroke-width="0.12">4</text>
<line x1="42.70" y1="578.20" x2="42.70" y2="581.00" stroke="#282828" stroke-width="1.1"/>
<line x1="58.30" y1="578.20" x2="58.30" y2="581.00" stroke="#282828" stroke-width="1.1"/>
<line x1="73.90" y1="578.20" x2="73.90" y2="581.00" stroke="#282828" stroke-width="1.1"/>
<line x1="89.40" y1="578.20" x2="89.40" y2="581.00" stroke="#282828" stroke-width="1.1"/>
<line x1="105.20" y1="578.20" x2="105.20" y2="581.00" stroke="#282828" stroke-width="1.1"/>
<line x1="120.70" y1="578.20" x2="120.70" y2="581.00" stroke="#282828" stroke-width="1.1"/>
<line x1="136.00" y1="578.20" x2="136.00" y2="581.00" stroke="#282828" stroke-width="1.1"/>
<circle cx="42.50" cy="528.60" r="1.35" fill="#bb1a35"/>
<circle cx="44.80" cy="531.00" r="1.35" fill="#bb1a35"/>
<circle cx="40.20" cy="533.80" r="1.35" fill="#bb1a35"/>
<circle cx="42.50" cy="539.60" r="1.35" fill="#bb1a35"/>
<circle cx="44.80" cy="543.10" r="1.35" fill="#bb1a35"/>
<circle cx="40.20" cy="545.40" r="1.35" fill="#bb1a35"/>
<line x1="37.80" y1="537.30" x2="47.60" y2="537.30" stroke="#5a0f1c" stroke-width="1.1"/>
<line x1="42.70" y1="530.10" x2="42.70" y2="544.80" stroke="#5a0f1c" stroke-width="1.1"/>
<line x1="40.20" y1="530.10" x2="45.20" y2="530.10" stroke="#5a0f1c" stroke-width="1.1"/>
<line x1="40.20" y1="544.80" x2="45.20" y2="544.80" stroke="#5a0f1c" stroke-width="1.1"/>
<rect x="57.25" y="508.85" width="2.70" height="2.70" fill="#1d4b8a"/>
<rect x="57.25" y="514.65" width="2.70" height="2.70" fill="#1d4b8a"/>
<rect x="56.75" y="522.15" width="2.70" height="2.70" fill="#1d4b8a"/>
<rect x="54.45" y="525.55" width="2.70" height="2.70" fill="#1d4b8a"/>
<rect x="59.05" y="527.25" width="2.70" height="2.70" fill="#1d4b8a"/>
<rect x="56.75" y="533.05" width="2.70" height="2.70" fill="#1d4b8a"/>
<line x1="53.40" y1="523.50" x2="63.20" y2="523.50" stroke="#14305a" stroke-width="1.1"/>
<line x1="58.30" y1="514.80" x2="58.30" y2="532.10" stroke="#14305a" stroke-width="1.1"/>
<line x1="55.80" y1="514.80" x2="60.80" y2="514.80" stroke="#14305a" stroke-width="1.1"/>
<line x1="55.80" y1="532.10" x2="60.80" y2="532.10" stroke="#14305a" stroke-width="1.1"/>
<path d="M74.20,522.91 L75.75,525.75 L72.65,525.75Z" fill="#3d9443"/>
<path d="M71.90,525.21 L73.45,528.05 L70.35,528.05Z" fill="#3d9443"/>
<path d="M75.90,525.81 L77.45,528.65 L74.35,528.65Z" fill="#3d9443"/>
<path d="M71.30,528.11 L72.85,530.95 L69.75,530.95Z" fill="#3d9443"/>
<path d="M76.50,529.31 L78.05,532.15 L74.95,532.15Z" fill="#3d9443"/>
<path d="M73.60,532.11 L75.15,534.95 L72.05,534.95Z" fill="#3d9443"/>
<line x1="69.00" y1="529.20" x2="78.80" y2="529.20" stroke="#1f4a22" stroke-width="1.1"/>
<line x1="73.90" y1="524.80" x2="73.90" y2="533.30" stroke="#1f4a22" stroke-width="1.1"/>
<line x1="71.40" y1="524.80" x2="76.40" y2="524.80" stroke="#1f4a22" stroke-width="1.1"/>
<line x1="71.40" y1="533.30" x2="76.40" y2="533.30" stroke="#1f4a22" stroke-width="1.1"/>
<path d="M86.90,537.29 L88.45,534.45 L85.35,534.45Z" fill="#3a1d4d"/>
<path d="M91.50,537.29 L93.05,534.45 L89.95,534.45Z" fill="#3a1d4d"/>
<path d="M89.20,540.09 L90.75,537.25 L87.65,537.25Z" fill="#3a1d4d"/>
<path d="M87.50,543.59 L89.05,540.75 L85.95,540.75Z" fill="#3a1d4d"/>
<path d="M89.20,545.89 L90.75,543.05 L87.65,543.05Z" fill="#3a1d4d"/>
<line x1="84.50" y1="539.00" x2="94.30" y2="539.00" stroke="#2a1238" stroke-width="1.1"/>
<line x1="89.40" y1="536.00" x2="89.40" y2="542.00" stroke="#2a1238" stroke-width="1.1"/>
<line x1="86.90" y1="536.00" x2="91.90" y2="536.00" stroke="#2a1238" stroke-width="1.1"/>
<line x1="86.90" y1="542.00" x2="91.90" y2="542.00" stroke="#2a1238" stroke-width="1.1"/>
<path d="M108.00,526.93 L109.55,528.75 L108.00,530.57 L106.45,528.75Z" fill="#c92f75"/>
<path d="M104.10,528.88 L105.65,530.70 L104.10,532.52 L102.55,530.70Z" fill="#c92f75"/>
<path d="M101.70,530.78 L103.25,532.60 L101.70,534.42 L100.15,532.60Z" fill="#c92f75"/>
<path d="M102.20,536.08 L103.75,537.90 L102.20,539.72 L100.65,537.90Z" fill="#c92f75"/>
<path d="M105.60,537.98 L107.15,539.80 L105.60,541.62 L104.05,539.80Z" fill="#c92f75"/>
<path d="M107.50,538.98 L109.05,540.80 L107.50,542.62 L105.95,540.80Z" fill="#c92f75"/>
<path d="M104.60,539.88 L106.15,541.70 L104.60,543.52 L103.05,541.70Z" fill="#c92f75"/>
<line x1="100.30" y1="535.50" x2="110.10" y2="535.50" stroke="#6a1238" stroke-width="1.1"/>
<line x1="105.20" y1="531.60" x2="105.20" y2="539.30" stroke="#6a1238" stroke-width="1.1"/>
<line x1="102.70" y1="531.60" x2="107.70" y2="531.60" stroke="#6a1238" stroke-width="1.1"/>
<line x1="102.70" y1="539.30" x2="107.70" y2="539.30" stroke="#6a1238" stroke-width="1.1"/>
<circle cx="120.50" cy="516.70" r="1.35" fill="#b09228"/>
<circle cx="120.50" cy="520.10" r="1.35" fill="#b09228"/>
<circle cx="118.10" cy="525.40" r="1.35" fill="#b09228"/>
<circle cx="122.90" cy="525.40" r="1.35" fill="#b09228"/>
<circle cx="120.50" cy="527.30" r="1.35" fill="#b09228"/>
<circle cx="118.60" cy="529.70" r="1.35" fill="#b09228"/>
<line x1="115.80" y1="524.40" x2="125.60" y2="524.40" stroke="#4a3a10" stroke-width="1.1"/>
<line x1="120.70" y1="519.60" x2="120.70" y2="526.80" stroke="#4a3a10" stroke-width="1.1"/>
<line x1="118.20" y1="519.60" x2="123.20" y2="519.60" stroke="#4a3a10" stroke-width="1.1"/>
<line x1="118.20" y1="526.80" x2="123.20" y2="526.80" stroke="#4a3a10" stroke-width="1.1"/>
<rect x="134.95" y="523.85" width="2.70" height="2.70" fill="#123d30"/>
<rect x="136.95" y="528.85" width="2.70" height="2.70" fill="#123d30"/>
<rect x="130.65" y="531.25" width="2.70" height="2.70" fill="#123d30"/>
<rect x="132.15" y="532.25" width="2.70" height="2.70" fill="#123d30"/>
<rect x="136.95" y="536.55" width="2.70" height="2.70" fill="#123d30"/>
<rect x="134.95" y="544.25" width="2.70" height="2.70" fill="#123d30"/>
<line x1="131.10" y1="534.50" x2="140.90" y2="534.50" stroke="#0c2a20" stroke-width="1.1"/>
<line x1="136.00" y1="528.30" x2="136.00" y2="541.25" stroke="#0c2a20" stroke-width="1.1"/>
<line x1="133.50" y1="528.30" x2="138.50" y2="528.30" stroke="#0c2a20" stroke-width="1.1"/>
<line x1="133.50" y1="541.25" x2="138.50" y2="541.25" stroke="#0c2a20" stroke-width="1.1"/>
<text x="20.00" y="541.40" font-size="7.3" text-anchor="middle" fill="#2e2e2e" stroke="#2e2e2e" stroke-width="0.12" textLength="82.80" lengthAdjust="spacingAndGlyphs" transform="rotate(-90 20.00 541.40)">Plasma transferrin (mg/mL)</text>
<text x="44.64" y="589.01" font-size="6.6" text-anchor="end" fill="#2e2e2e" stroke="#2e2e2e" stroke-width="0.12" transform="rotate(-45 44.64 589.01)">NC</text>
<text x="60.11" y="588.39" font-size="6.6" text-anchor="end" fill="#2e2e2e" stroke="#2e2e2e" stroke-width="0.12" transform="rotate(-45 60.11 588.39)">Low temperature</text>
<text x="75.84" y="588.89" font-size="6.6" text-anchor="end" fill="#2e2e2e" stroke="#2e2e2e" stroke-width="0.12" transform="rotate(-45 75.84 588.89)">IgG</text>
<text x="91.34" y="588.89" font-size="6.6" text-anchor="end" fill="#2e2e2e" stroke="#2e2e2e" stroke-width="0.12" transform="rotate(-45 91.34 588.89)">Tf AB</text>
<text x="106.76" y="589.89" font-size="6.6" text-anchor="end" fill="#2e2e2e" stroke="#2e2e2e" stroke-width="0.12" transform="rotate(-45 106.76 589.89)">RNR-Tf</text>
<text x="122.14" y="588.89" font-size="6.6" text-anchor="end" fill="#2e2e2e" stroke="#2e2e2e" stroke-width="0.12" transform="rotate(-45 122.14 588.89)">RNR</text>
<text x="137.81" y="589.14" font-size="6.6" text-anchor="end" fill="#2e2e2e" stroke="#2e2e2e" stroke-width="0.12" transform="rotate(-45 137.81 589.14)">LW6</text>
<line x1="73.65" y1="606.60" x2="146.00" y2="606.60" stroke="#3a3a3a" stroke-width="1.1"/>
<text x="109.80" y="616.40" font-size="6.7" text-anchor="middle" fill="#2e2e2e" stroke="#2e2e2e" stroke-width="0.12" textLength="50.30" lengthAdjust="spacingAndGlyphs">Low temperature</text>
<line x1="42.30" y1="507.30" x2="57.20" y2="507.30" stroke="#3a3a3a" stroke-width="1.1"/>
<circle cx="49.75" cy="504.00" r="0.8" fill="#333"/>
<line x1="72.20" y1="507.30" x2="86.70" y2="507.30" stroke="#3a3a3a" stroke-width="1.1"/>
<circle cx="77.80" cy="504.00" r="0.8" fill="#333"/>
<circle cx="81.10" cy="504.00" r="0.8" fill="#333"/>
<line x1="104.00" y1="507.30" x2="118.90" y2="507.30" stroke="#3a3a3a" stroke-width="1.1"/>
<circle cx="109.80" cy="504.00" r="0.8" fill="#333"/>
<circle cx="113.10" cy="504.00" r="0.8" fill="#333"/>
<line x1="59.00" y1="499.00" x2="137.40" y2="499.00" stroke="#3a3a3a" stroke-width="1.1"/>
<circle cx="98.20" cy="495.70" r="0.8" fill="#333"/>
<line x1="235.75" y1="502.90" x2="235.75" y2="579.05" stroke="#282828" stroke-width="1.5"/>
<line x1="235.00" y1="578.30" x2="349.00" y2="578.30" stroke="#282828" stroke-width="1.5"/>
<line x1="232.95" y1="578.30" x2="235.75" y2="578.30" stroke="#282828" stroke-width="1.1"/>
<text x="230.30" y="580.70" font-size="6.7" text-anchor="end" fill="#3a3a3a" stroke="#3a3a3a" stroke-width="0.12">0</text>
<line x1="232.95" y1="560.07" x2="235.75" y2="560.07" stroke="#282828" stroke-width="1.1"/>
<text x="230.30" y="562.47" font-size="6.7" text-anchor="end" fill="#3a3a3a" stroke="#3a3a3a" stroke-width="0.12">40</text>
<line x1="232.95" y1="541.85" x2="235.75" y2="541.85" stroke="#282828" stroke-width="1.1"/>
<text x="230.30" y="544.25" font-size="6.7" text-anchor="end" fill="#3a3a3a" stroke="#3a3a3a" stroke-width="0.12">80</text>
<line x1="232.95" y1="523.62" x2="235.75" y2="523.62" stroke="#282828" stroke-width="1.1"/>
<text x="230.30" y="526.02" font-size="6.7" text-anchor="end" fill="#3a3a3a" stroke="#3a3a3a" stroke-width="0.12">120</text>
<line x1="232.95" y1="505.40" x2="235.75" y2="505.40" stroke="#282828" stroke-width="1.1"/>
<text x="230.30" y="507.80" font-size="6.7" text-anchor="end" fill="#3a3a3a" stroke="#3a3a3a" stroke-width="0.12">160</text>
<line x1="244.50" y1="578.30" x2="244.50" y2="581.10" stroke="#282828" stroke-width="1.1"/>
<line x1="260.30" y1="578.30" x2="260.30" y2="581.10" stroke="#282828" stroke-width="1.1"/>
<line x1="276.50" y1="578.30" x2="276.50" y2="581.10" stroke="#282828" stroke-width="1.1"/>
<line x1="292.30" y1="578.30" x2="292.30" y2="581.10" stroke="#282828" stroke-width="1.1"/>
<line x1="308.20" y1="578.30" x2="308.20" y2="581.10" stroke="#282828" stroke-width="1.1"/>
<line x1="324.50" y1="578.30" x2="324.50" y2="581.10" stroke="#282828" stroke-width="1.1"/>
<line x1="340.40" y1="578.30" x2="340.40" y2="581.10" stroke="#282828" stroke-width="1.1"/>
<circle cx="247.40" cy="530.90" r="1.35" fill="#bb1a35"/>
<circle cx="243.90" cy="532.30" r="1.35" fill="#bb1a35"/>
<circle cx="239.30" cy="533.40" r="1.35" fill="#bb1a35"/>
<circle cx="245.70" cy="534.60" r="1.35" fill="#bb1a35"/>
<circle cx="242.20" cy="536.30" r="1.35" fill="#bb1a35"/>
<circle cx="245.10" cy="539.20" r="1.35" fill="#bb1a35"/>
<line x1="239.60" y1="535.20" x2="249.40" y2="535.20" stroke="#5a0f1c" stroke-width="1.1"/>
<line x1="244.50" y1="532.00" x2="244.50" y2="538.00" stroke="#5a0f1c" stroke-width="1.1"/>
<line x1="242.00" y1="532.00" x2="247.00" y2="532.00" stroke="#5a0f1c" stroke-width="1.1"/>
<line x1="242.00" y1="538.00" x2="247.00" y2="538.00" stroke="#5a0f1c" stroke-width="1.1"/>
<rect x="258.75" y="504.95" width="2.70" height="2.70" fill="#1d4b8a"/>
<rect x="261.65" y="512.45" width="2.70" height="2.70" fill="#1d4b8a"/>
<rect x="255.25" y="514.25" width="2.70" height="2.70" fill="#1d4b8a"/>
<rect x="258.75" y="515.35" width="2.70" height="2.70" fill="#1d4b8a"/>
<rect x="259.25" y="517.15" width="2.70" height="2.70" fill="#1d4b8a"/>
<rect x="258.75" y="525.75" width="2.70" height="2.70" fill="#1d4b8a"/>
<line x1="255.40" y1="515.00" x2="265.20" y2="515.00" stroke="#14305a" stroke-width="1.1"/>
<line x1="260.30" y1="508.30" x2="260.30" y2="521.90" stroke="#14305a" stroke-width="1.1"/>
<line x1="257.80" y1="508.30" x2="262.80" y2="508.30" stroke="#14305a" stroke-width="1.1"/>
<line x1="257.80" y1="521.90" x2="262.80" y2="521.90" stroke="#14305a" stroke-width="1.1"/>
<path d="M276.20,504.61 L277.75,507.45 L274.65,507.45Z" fill="#3d9443"/>
<path d="M273.90,513.11 L275.45,515.95 L272.35,515.95Z" fill="#3d9443"/>
<path d="M278.00,513.11 L279.55,515.95 L276.45,515.95Z" fill="#3d9443"/>
<path d="M275.10,516.81 L276.65,519.65 L273.55,519.65Z" fill="#3d9443"/>
<path d="M278.00,519.11 L279.55,521.95 L276.45,521.95Z" fill="#3d9443"/>
<path d="M276.20,530.61 L277.75,533.45 L274.65,533.45Z" fill="#3d9443"/>
<line x1="271.60" y1="517.90" x2="281.40" y2="517.90" stroke="#1f4a22" stroke-width="1.1"/>
<line x1="276.50" y1="508.30" x2="276.50" y2="526.30" stroke="#1f4a22" stroke-width="1.1"/>
<line x1="274.00" y1="508.30" x2="279.00" y2="508.30" stroke="#1f4a22" stroke-width="1.1"/>
<line x1="274.00" y1="526.30" x2="279.00" y2="526.30" stroke="#1f4a22" stroke-width="1.1"/>
<path d="M292.00,525.79 L293.55,522.95 L290.45,522.95Z" fill="#3a1d4d"/>
<path d="M293.80,527.59 L295.35,524.75 L292.25,524.75Z" fill="#3a1d4d"/>
<path d="M288.90,529.49 L290.45,526.65 L287.35,526.65Z" fill="#3a1d4d"/>
<path d="M293.20,531.29 L294.75,528.45 L291.65,528.45Z" fill="#3a1d4d"/>
<path d="M290.80,533.19 L292.35,530.35 L289.25,530.35Z" fill="#3a1d4d"/>
<path d="M289.50,534.99 L291.05,532.15 L287.95,532.15Z" fill="#3a1d4d"/>
<line x1="287.40" y1="528.40" x2="297.20" y2="528.40" stroke="#2a1238" stroke-width="1.1"/>
<line x1="292.30" y1="524.70" x2="292.30" y2="531.50" stroke="#2a1238" stroke-width="1.1"/>
<line x1="289.80" y1="524.70" x2="294.80" y2="524.70" stroke="#2a1238" stroke-width="1.1"/>
<line x1="289.80" y1="531.50" x2="294.80" y2="531.50" stroke="#2a1238" stroke-width="1.1"/>
<path d="M309.20,521.38 L310.75,523.20 L309.20,525.02 L307.65,523.20Z" fill="#c92f75"/>
<path d="M307.40,523.48 L308.95,525.30 L307.40,527.12 L305.85,525.30Z" fill="#c92f75"/>
<path d="M311.10,525.38 L312.65,527.20 L311.10,529.02 L309.55,527.20Z" fill="#c92f75"/>
<path d="M305.50,526.58 L307.05,528.40 L305.50,530.22 L303.95,528.40Z" fill="#c92f75"/>
<path d="M308.60,528.98 L310.15,530.80 L308.60,532.62 L307.05,530.80Z" fill="#c92f75"/>
<path d="M306.20,531.48 L307.75,533.30 L306.20,535.12 L304.65,533.30Z" fill="#c92f75"/>
<line x1="303.30" y1="528.10" x2="313.10" y2="528.10" stroke="#6a1238" stroke-width="1.1"/>
<line x1="308.20" y1="524.30" x2="308.20" y2="532.00" stroke="#6a1238" stroke-width="1.1"/>
<line x1="305.70" y1="524.30" x2="310.70" y2="524.30" stroke="#6a1238" stroke-width="1.1"/>
<line x1="305.70" y1="532.00" x2="310.70" y2="532.00" stroke="#6a1238" stroke-width="1.1"/>
<circle cx="322.20" cy="510.50" r="1.35" fill="#b09228"/>
<circle cx="326.50" cy="510.50" r="1.35" fill="#b09228"/>
<circle cx="324.00" cy="514.20" r="1.35" fill="#b09228"/>
<circle cx="322.20" cy="519.20" r="1.35" fill="#b09228"/>
<circle cx="325.80" cy="519.80" r="1.35" fill="#b09228"/>
<circle cx="323.40" cy="522.20" r="1.35" fill="#b09228"/>
<line x1="319.60" y1="516.70" x2="329.40" y2="516.70" stroke="#4a3a10" stroke-width="1.1"/>
<line x1="324.50" y1="511.80" x2="324.50" y2="521.00" stroke="#4a3a10" stroke-width="1.1"/>
<line x1="322.00" y1="511.80" x2="327.00" y2="511.80" stroke="#4a3a10" stroke-width="1.1"/>
<line x1="322.00" y1="521.00" x2="327.00" y2="521.00" stroke="#4a3a10" stroke-width="1.1"/>
<rect x="335.55" y="520.85" width="2.70" height="2.70" fill="#123d30"/>
<rect x="338.65" y="520.85" width="2.70" height="2.70" fill="#123d30"/>
<rect x="342.95" y="520.85" width="2.70" height="2.70" fill="#123d30"/>
<rect x="337.45" y="523.35" width="2.70" height="2.70" fill="#123d30"/>
<rect x="341.15" y="523.35" width="2.70" height="2.70" fill="#123d30"/>
<rect x="339.05" y="532.95" width="2.70" height="2.70" fill="#123d30"/>
<line x1="335.50" y1="525.30" x2="345.30" y2="525.30" stroke="#0c2a20" stroke-width="1.1"/>
<line x1="340.40" y1="521.00" x2="340.40" y2="529.60" stroke="#0c2a20" stroke-width="1.1"/>
<line x1="337.90" y1="521.00" x2="342.90" y2="521.00" stroke="#0c2a20" stroke-width="1.1"/>
<line x1="337.90" y1="529.60" x2="342.90" y2="529.60" stroke="#0c2a20" stroke-width="1.1"/>
<text x="212.30" y="541.50" font-size="7.3" text-anchor="middle" fill="#2e2e2e" stroke="#2e2e2e" stroke-width="0.12" textLength="81.40" lengthAdjust="spacingAndGlyphs" transform="rotate(-90 212.30 541.50)">Plasma relative activity (%)</text>
<text x="246.44" y="589.11" font-size="6.6" text-anchor="end" fill="#2e2e2e" stroke="#2e2e2e" stroke-width="0.12" transform="rotate(-45 246.44 589.11)">NC</text>
<text x="262.11" y="588.49" font-size="6.6" text-anchor="end" fill="#2e2e2e" stroke="#2e2e2e" stroke-width="0.12" transform="rotate(-45 262.11 588.49)">Low temperature</text>
<text x="278.44" y="588.99" font-size="6.6" text-anchor="end" fill="#2e2e2e" stroke="#2e2e2e" stroke-width="0.12" transform="rotate(-45 278.44 588.99)">IgG</text>
<text x="294.24" y="588.99" font-size="6.6" text-anchor="end" fill="#2e2e2e" stroke="#2e2e2e" stroke-width="0.12" transform="rotate(-45 294.24 588.99)">Tf AB</text>
<text x="309.76" y="589.99" font-size="6.6" text-anchor="end" fill="#2e2e2e" stroke="#2e2e2e" stroke-width="0.12" transform="rotate(-45 309.76 589.99)">RNR-Tf</text>
<text x="325.94" y="588.99" font-size="6.6" text-anchor="end" fill="#2e2e2e" stroke="#2e2e2e" stroke-width="0.12" transform="rotate(-45 325.94 588.99)">RNR</text>
<text x="342.21" y="589.24" font-size="6.6" text-anchor="end" fill="#2e2e2e" stroke="#2e2e2e" stroke-width="0.12" transform="rotate(-45 342.21 589.24)">LW6</text>
<line x1="275.00" y1="606.10" x2="347.20" y2="606.10" stroke="#3a3a3a" stroke-width="1.1"/>
<text x="311.00" y="616.50" font-size="6.7" text-anchor="middle" fill="#2e2e2e" stroke="#2e2e2e" stroke-width="0.12" textLength="50.30" lengthAdjust="spacingAndGlyphs">Low temperature</text>
<line x1="243.70" y1="503.10" x2="259.20" y2="503.10" stroke="#3a3a3a" stroke-width="1.1"/>
<circle cx="249.80" cy="499.80" r="0.8" fill="#333"/>
<circle cx="253.10" cy="499.80" r="0.8" fill="#333"/>
<line x1="274.40" y1="503.80" x2="289.30" y2="503.80" stroke="#3a3a3a" stroke-width="1.1"/>
<circle cx="281.85" cy="500.50" r="0.8" fill="#333"/>
<line x1="306.90" y1="503.80" x2="322.80" y2="503.80" stroke="#3a3a3a" stroke-width="1.1"/>
<circle cx="313.20" cy="500.50" r="0.8" fill="#333"/>
<circle cx="316.50" cy="500.50" r="0.8" fill="#333"/>
<line x1="260.90" y1="496.00" x2="341.30" y2="496.00" stroke="#3a3a3a" stroke-width="1.1"/>
<circle cx="301.10" cy="492.70" r="0.8" fill="#333"/>
<text x="235.70" y="487.40" font-size="6.5" text-anchor="start" fill="#2a2a2a" stroke="#2a2a2a" stroke-width="0.12" textLength="27.60" lengthAdjust="spacingAndGlyphs">Thrombin</text>
<line x1="404.70" y1="502.90" x2="404.70" y2="579.05" stroke="#282828" stroke-width="1.5"/>
<line x1="403.95" y1="578.30" x2="520.50" y2="578.30" stroke="#282828" stroke-width="1.5"/>
<line x1="401.90" y1="578.30" x2="404.70" y2="578.30" stroke="#282828" stroke-width="1.1"/>
<text x="399.30" y="580.70" font-size="6.7" text-anchor="end" fill="#3a3a3a" stroke="#3a3a3a" stroke-width="0.12">0</text>
<line x1="401.90" y1="560.07" x2="404.70" y2="560.07" stroke="#282828" stroke-width="1.1"/>
<text x="399.30" y="562.47" font-size="6.7" text-anchor="end" fill="#3a3a3a" stroke="#3a3a3a" stroke-width="0.12">50</text>
<line x1="401.90" y1="541.85" x2="404.70" y2="541.85" stroke="#282828" stroke-width="1.1"/>
<text x="399.30" y="544.25" font-size="6.7" text-anchor="end" fill="#3a3a3a" stroke="#3a3a3a" stroke-width="0.12">100</text>
<line x1="401.90" y1="523.62" x2="404.70" y2="523.62" stroke="#282828" stroke-width="1.1"/>
<text x="399.30" y="526.02" font-size="6.7" text-anchor="end" fill="#3a3a3a" stroke="#3a3a3a" stroke-width="0.12">150</text>
<line x1="401.90" y1="505.40" x2="404.70" y2="505.40" stroke="#282828" stroke-width="1.1"/>
<text x="399.30" y="507.80" font-size="6.7" text-anchor="end" fill="#3a3a3a" stroke="#3a3a3a" stroke-width="0.12">200</text>
<line x1="413.60" y1="578.30" x2="413.60" y2="581.10" stroke="#282828" stroke-width="1.1"/>
<line x1="429.50" y1="578.30" x2="429.50" y2="581.10" stroke="#282828" stroke-width="1.1"/>
<line x1="446.10" y1="578.30" x2="446.10" y2="581.10" stroke="#282828" stroke-width="1.1"/>
<line x1="462.00" y1="578.30" x2="462.00" y2="581.10" stroke="#282828" stroke-width="1.1"/>
<line x1="478.30" y1="578.30" x2="478.30" y2="581.10" stroke="#282828" stroke-width="1.1"/>
<line x1="494.50" y1="578.30" x2="494.50" y2="581.10" stroke="#282828" stroke-width="1.1"/>
<line x1="510.90" y1="578.30" x2="510.90" y2="581.10" stroke="#282828" stroke-width="1.1"/>
<circle cx="408.50" cy="537.70" r="1.35" fill="#bb1a35"/>
<circle cx="417.70" cy="539.40" r="1.35" fill="#bb1a35"/>
<circle cx="411.30" cy="540.60" r="1.35" fill="#bb1a35"/>
<circle cx="414.80" cy="542.90" r="1.35" fill="#bb1a35"/>
<circle cx="411.30" cy="545.20" r="1.35" fill="#bb1a35"/>
<circle cx="414.20" cy="545.80" r="1.35" fill="#bb1a35"/>
<line x1="408.70" y1="542.30" x2="418.50" y2="542.30" stroke="#5a0f1c" stroke-width="1.1"/>
<line x1="413.60" y1="539.50" x2="413.60" y2="545.00" stroke="#5a0f1c" stroke-width="1.1"/>
<line x1="411.10" y1="539.50" x2="416.10" y2="539.50" stroke="#5a0f1c" stroke-width="1.1"/>
<line x1="411.10" y1="545.00" x2="416.10" y2="545.00" stroke="#5a0f1c" stroke-width="1.1"/>
<rect x="430.75" y="515.55" width="2.70" height="2.70" fill="#1d4b8a"/>
<rect x="426.15" y="519.65" width="2.70" height="2.70" fill="#1d4b8a"/>
<rect x="428.45" y="523.05" width="2.70" height="2.70" fill="#1d4b8a"/>
<rect x="424.95" y="528.85" width="2.70" height="2.70" fill="#1d4b8a"/>
<rect x="431.35" y="528.85" width="2.70" height="2.70" fill="#1d4b8a"/>
<rect x="427.85" y="530.55" width="2.70" height="2.70" fill="#1d4b8a"/>
<line x1="424.60" y1="526.10" x2="434.40" y2="526.10" stroke="#14305a" stroke-width="1.1"/>
<line x1="429.50" y1="520.40" x2="429.50" y2="531.90" stroke="#14305a" stroke-width="1.1"/>
<line x1="427.00" y1="520.40" x2="432.00" y2="520.40" stroke="#14305a" stroke-width="1.1"/>
<line x1="427.00" y1="531.90" x2="432.00" y2="531.90" stroke="#14305a" stroke-width="1.1"/>
<path d="M448.80,519.81 L450.35,522.65 L447.25,522.65Z" fill="#3d9443"/>
<path d="M443.10,521.91 L444.65,524.75 L441.55,524.75Z" fill="#3d9443"/>
<path d="M446.50,523.31 L448.05,526.15 L444.95,526.15Z" fill="#3d9443"/>
<path d="M444.20,527.91 L445.75,530.75 L442.65,530.75Z" fill="#3d9443"/>
<path d="M448.80,529.11 L450.35,531.95 L447.25,531.95Z" fill="#3d9443"/>
<path d="M445.40,531.91 L446.95,534.75 L443.85,534.75Z" fill="#3d9443"/>
<line x1="441.20" y1="527.30" x2="451.00" y2="527.30" stroke="#1f4a22" stroke-width="1.1"/>
<line x1="446.10" y1="522.90" x2="446.10" y2="532.50" stroke="#1f4a22" stroke-width="1.1"/>
<line x1="443.60" y1="522.90" x2="448.60" y2="522.90" stroke="#1f4a22" stroke-width="1.1"/>
<line x1="443.60" y1="532.50" x2="448.60" y2="532.50" stroke="#1f4a22" stroke-width="1.1"/>
<path d="M462.40,530.79 L463.95,527.95 L460.85,527.95Z" fill="#3a1d4d"/>
<path d="M458.70,535.69 L460.25,532.85 L457.15,532.85Z" fill="#3a1d4d"/>
<path d="M466.10,536.89 L467.65,534.05 L464.55,534.05Z" fill="#3a1d4d"/>
<path d="M461.80,534.49 L463.35,531.65 L460.25,531.65Z" fill="#3a1d4d"/>
<path d="M463.60,539.99 L465.15,537.15 L462.05,537.15Z" fill="#3a1d4d"/>
<path d="M461.20,540.99 L462.75,538.15 L459.65,538.15Z" fill="#3a1d4d"/>
<line x1="457.10" y1="534.60" x2="466.90" y2="534.60" stroke="#2a1238" stroke-width="1.1"/>
<line x1="462.00" y1="530.50" x2="462.00" y2="538.50" stroke="#2a1238" stroke-width="1.1"/>
<line x1="459.50" y1="530.50" x2="464.50" y2="530.50" stroke="#2a1238" stroke-width="1.1"/>
<line x1="459.50" y1="538.50" x2="464.50" y2="538.50" stroke="#2a1238" stroke-width="1.1"/>
<path d="M478.40,530.98 L479.95,532.80 L478.40,534.62 L476.85,532.80Z" fill="#c92f75"/>
<path d="M475.30,534.68 L476.85,536.50 L475.30,538.32 L473.75,536.50Z" fill="#c92f75"/>
<path d="M481.50,534.68 L483.05,536.50 L481.50,538.32 L479.95,536.50Z" fill="#c92f75"/>
<path d="M478.40,536.48 L479.95,538.30 L478.40,540.12 L476.85,538.30Z" fill="#c92f75"/>
<path d="M477.20,537.68 L478.75,539.50 L477.20,541.32 L475.65,539.50Z" fill="#c92f75"/>
<path d="M479.60,538.38 L481.15,540.20 L479.60,542.02 L478.05,540.20Z" fill="#c92f75"/>
<line x1="473.40" y1="537.10" x2="483.20" y2="537.10" stroke="#6a1238" stroke-width="1.1"/>
<line x1="478.30" y1="534.50" x2="478.30" y2="539.50" stroke="#6a1238" stroke-width="1.1"/>
<line x1="475.80" y1="534.50" x2="480.80" y2="534.50" stroke="#6a1238" stroke-width="1.1"/>
<line x1="475.80" y1="539.50" x2="480.80" y2="539.50" stroke="#6a1238" stroke-width="1.1"/>
<circle cx="491.90" cy="518.00" r="1.35" fill="#b09228"/>
<circle cx="497.50" cy="519.20" r="1.35" fill="#b09228"/>
<circle cx="493.20" cy="524.80" r="1.35" fill="#b09228"/>
<circle cx="496.80" cy="524.80" r="1.35" fill="#b09228"/>
<circle cx="495.00" cy="526.00" r="1.35" fill="#b09228"/>
<circle cx="494.40" cy="532.20" r="1.35" fill="#b09228"/>
<line x1="489.60" y1="523.30" x2="499.40" y2="523.30" stroke="#4a3a10" stroke-width="1.1"/>
<line x1="494.50" y1="518.00" x2="494.50" y2="528.50" stroke="#4a3a10" stroke-width="1.1"/>
<line x1="492.00" y1="518.00" x2="497.00" y2="518.00" stroke="#4a3a10" stroke-width="1.1"/>
<line x1="492.00" y1="528.50" x2="497.00" y2="528.50" stroke="#4a3a10" stroke-width="1.1"/>
<rect x="512.15" y="524.65" width="2.70" height="2.70" fill="#123d30"/>
<rect x="505.35" y="527.75" width="2.70" height="2.70" fill="#123d30"/>
<rect x="509.05" y="530.85" width="2.70" height="2.70" fill="#123d30"/>
<rect x="514.55" y="533.85" width="2.70" height="2.70" fill="#123d30"/>
<rect x="507.85" y="538.15" width="2.70" height="2.70" fill="#123d30"/>
<rect x="512.75" y="537.55" width="2.70" height="2.70" fill="#123d30"/>
<line x1="506.00" y1="534.00" x2="515.80" y2="534.00" stroke="#0c2a20" stroke-width="1.1"/>
<line x1="510.90" y1="528.50" x2="510.90" y2="537.70" stroke="#0c2a20" stroke-width="1.1"/>
<line x1="508.40" y1="528.50" x2="513.40" y2="528.50" stroke="#0c2a20" stroke-width="1.1"/>
<line x1="508.40" y1="537.70" x2="513.40" y2="537.70" stroke="#0c2a20" stroke-width="1.1"/>
<text x="382.30" y="541.50" font-size="7.3" text-anchor="middle" fill="#2e2e2e" stroke="#2e2e2e" stroke-width="0.12" textLength="81.40" lengthAdjust="spacingAndGlyphs" transform="rotate(-90 382.30 541.50)">Plasma relative activity (%)</text>
<text x="415.54" y="589.11" font-size="6.6" text-anchor="end" fill="#2e2e2e" stroke="#2e2e2e" stroke-width="0.12" transform="rotate(-45 415.54 589.11)">NC</text>
<text x="431.31" y="588.49" font-size="6.6" text-anchor="end" fill="#2e2e2e" stroke="#2e2e2e" stroke-width="0.12" transform="rotate(-45 431.31 588.49)">Low temperature</text>
<text x="448.04" y="588.99" font-size="6.6" text-anchor="end" fill="#2e2e2e" stroke="#2e2e2e" stroke-width="0.12" transform="rotate(-45 448.04 588.99)">IgG</text>
<text x="463.94" y="588.99" font-size="6.6" text-anchor="end" fill="#2e2e2e" stroke="#2e2e2e" stroke-width="0.12" transform="rotate(-45 463.94 588.99)">Tf AB</text>
<text x="479.86" y="589.99" font-size="6.6" text-anchor="end" fill="#2e2e2e" stroke="#2e2e2e" stroke-width="0.12" transform="rotate(-45 479.86 589.99)">RNR-Tf</text>
<text x="495.94" y="588.99" font-size="6.6" text-anchor="end" fill="#2e2e2e" stroke="#2e2e2e" stroke-width="0.12" transform="rotate(-45 495.94 588.99)">RNR</text>
<text x="512.71" y="589.24" font-size="6.6" text-anchor="end" fill="#2e2e2e" stroke="#2e2e2e" stroke-width="0.12" transform="rotate(-45 512.71 589.24)">LW6</text>
<line x1="444.70" y1="606.10" x2="516.50" y2="606.10" stroke="#3a3a3a" stroke-width="1.1"/>
<text x="480.85" y="616.50" font-size="6.7" text-anchor="middle" fill="#2e2e2e" stroke="#2e2e2e" stroke-width="0.12" textLength="50.30" lengthAdjust="spacingAndGlyphs">Low temperature</text>
<line x1="412.40" y1="514.00" x2="427.70" y2="514.00" stroke="#3a3a3a" stroke-width="1.1"/>
<circle cx="418.40" cy="510.70" r="0.8" fill="#333"/>
<circle cx="421.70" cy="510.70" r="0.8" fill="#333"/>
<line x1="444.00" y1="514.40" x2="459.30" y2="514.40" stroke="#3a3a3a" stroke-width="1.1"/>
<circle cx="450.00" cy="511.10" r="0.8" fill="#333"/>
<circle cx="453.30" cy="511.10" r="0.8" fill="#333"/>
<line x1="477.50" y1="514.40" x2="493.30" y2="514.40" stroke="#3a3a3a" stroke-width="1.1"/>
<circle cx="483.75" cy="511.10" r="0.8" fill="#333"/>
<circle cx="487.05" cy="511.10" r="0.8" fill="#333"/>
<line x1="430.40" y1="507.00" x2="512.10" y2="507.00" stroke="#3a3a3a" stroke-width="1.1"/>
<circle cx="471.25" cy="503.70" r="0.8" fill="#333"/>
<text x="404.90" y="487.80" font-size="6.0" text-anchor="start" fill="#2a2a2a" stroke="#2a2a2a" stroke-width="0.12" textLength="14.90" lengthAdjust="spacingAndGlyphs">FXIIa</text>
</svg>
</body></html>
